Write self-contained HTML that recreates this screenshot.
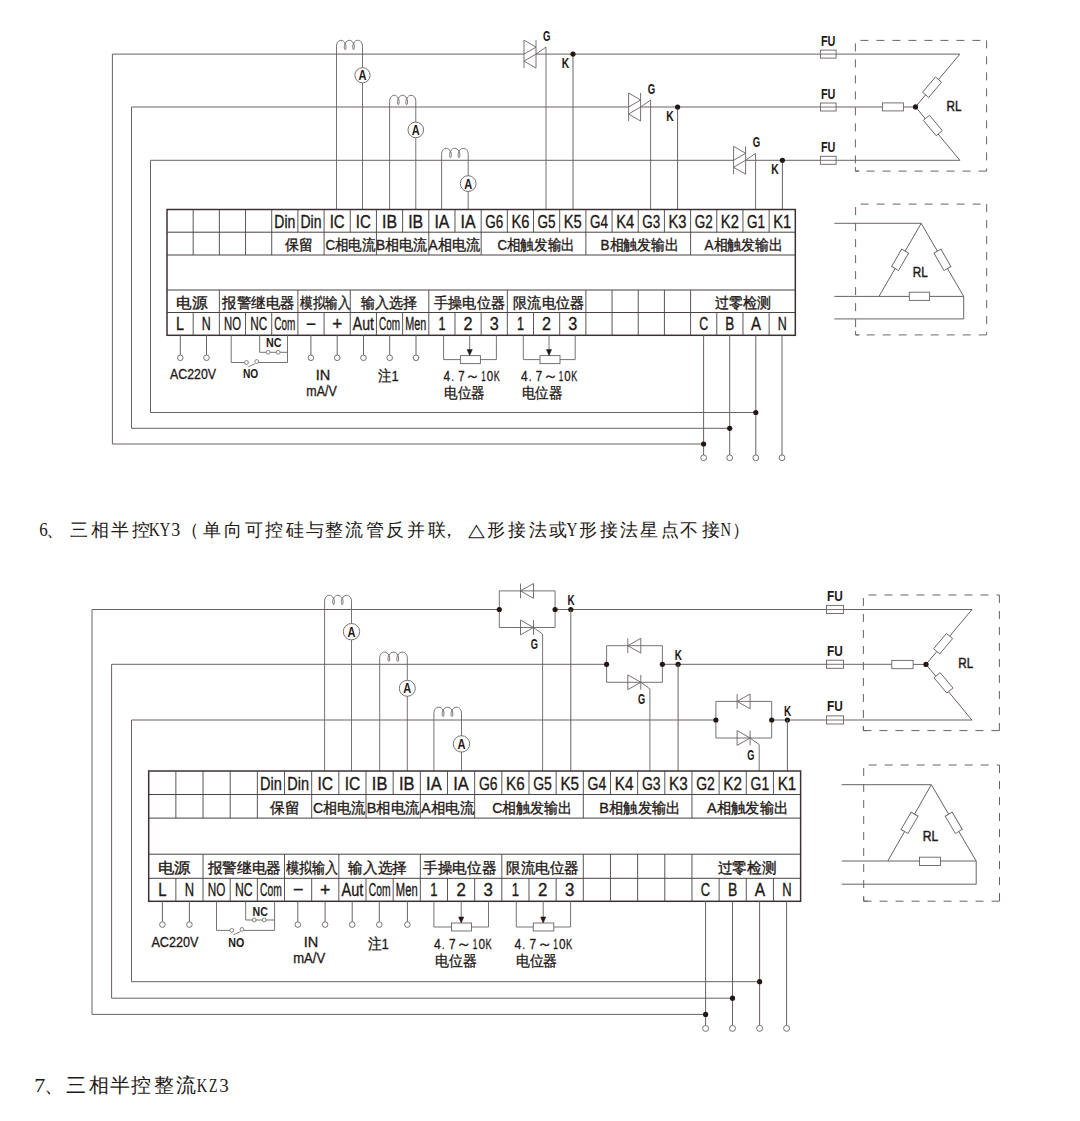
<!DOCTYPE html><html><head><meta charset="utf-8"><style>html,body{margin:0;padding:0;background:#fff;}svg{display:block}</style></head><body>
<svg width="1080" height="1121" viewBox="0 0 1080 1121">
<rect width="1080" height="1121" fill="#fff"/>
<path d="M703.60,444.00 H112.40 V54.10" stroke="#6a6262" stroke-width="1.0" fill="none"/>
<path d="M729.70,428.30 H131.50 V107.00" stroke="#6a6262" stroke-width="1.0" fill="none"/>
<path d="M755.80,412.50 H150.50 V160.30" stroke="#6a6262" stroke-width="1.0" fill="none"/>
<line x1="112.40" y1="54.10" x2="524.00" y2="54.10" stroke="#6a6262" stroke-width="1.0"/>
<line x1="536.00" y1="54.10" x2="959.90" y2="54.10" stroke="#6a6262" stroke-width="1.0"/>
<line x1="524.00" y1="40.10" x2="524.00" y2="68.10" stroke="#6a6262" stroke-width="0.9"/>
<line x1="536.00" y1="40.10" x2="536.00" y2="68.10" stroke="#6a6262" stroke-width="0.9"/>
<path d="M524.00,40.10 L536.00,47.10 L524.00,54.10" stroke="#6a6262" stroke-width="0.9" fill="none"/>
<path d="M536.00,54.10 L524.00,61.10 L536.00,68.10" stroke="#6a6262" stroke-width="0.9" fill="none"/>
<path d="M536.00,54.10 L546.00,47.10 V209.50" stroke="#6a6262" stroke-width="0.9" fill="none"/>
<text x="546.80" y="40.90" font-size="14" text-anchor="middle" font-family="Liberation Sans" font-weight="bold" fill="#231815" textLength="7.50" lengthAdjust="spacingAndGlyphs">G</text>
<line x1="573.00" y1="54.10" x2="573.00" y2="209.50" stroke="#6a6262" stroke-width="1.0"/>
<circle cx="573.00" cy="54.10" r="2.6" fill="#231815"/>
<text x="565.50" y="68.10" font-size="14" text-anchor="middle" font-family="Liberation Sans" font-weight="bold" fill="#231815" textLength="7.50" lengthAdjust="spacingAndGlyphs">K</text>
<line x1="131.50" y1="107.00" x2="628.60" y2="107.00" stroke="#6a6262" stroke-width="1.0"/>
<line x1="640.60" y1="107.00" x2="882.40" y2="107.00" stroke="#6a6262" stroke-width="1.0"/>
<line x1="628.60" y1="93.00" x2="628.60" y2="121.00" stroke="#6a6262" stroke-width="0.9"/>
<line x1="640.60" y1="93.00" x2="640.60" y2="121.00" stroke="#6a6262" stroke-width="0.9"/>
<path d="M628.60,93.00 L640.60,100.00 L628.60,107.00" stroke="#6a6262" stroke-width="0.9" fill="none"/>
<path d="M640.60,107.00 L628.60,114.00 L640.60,121.00" stroke="#6a6262" stroke-width="0.9" fill="none"/>
<path d="M640.60,107.00 L650.60,100.00 V209.50" stroke="#6a6262" stroke-width="0.9" fill="none"/>
<text x="651.40" y="93.80" font-size="14" text-anchor="middle" font-family="Liberation Sans" font-weight="bold" fill="#231815" textLength="7.50" lengthAdjust="spacingAndGlyphs">G</text>
<line x1="677.60" y1="107.00" x2="677.60" y2="209.50" stroke="#6a6262" stroke-width="1.0"/>
<circle cx="677.60" cy="107.00" r="2.6" fill="#231815"/>
<text x="670.10" y="121.00" font-size="14" text-anchor="middle" font-family="Liberation Sans" font-weight="bold" fill="#231815" textLength="7.50" lengthAdjust="spacingAndGlyphs">K</text>
<line x1="150.50" y1="160.30" x2="733.60" y2="160.30" stroke="#6a6262" stroke-width="1.0"/>
<line x1="745.60" y1="160.30" x2="959.90" y2="160.30" stroke="#6a6262" stroke-width="1.0"/>
<line x1="733.60" y1="146.30" x2="733.60" y2="174.30" stroke="#6a6262" stroke-width="0.9"/>
<line x1="745.60" y1="146.30" x2="745.60" y2="174.30" stroke="#6a6262" stroke-width="0.9"/>
<path d="M733.60,146.30 L745.60,153.30 L733.60,160.30" stroke="#6a6262" stroke-width="0.9" fill="none"/>
<path d="M745.60,160.30 L733.60,167.30 L745.60,174.30" stroke="#6a6262" stroke-width="0.9" fill="none"/>
<path d="M745.60,160.30 L755.60,153.30 V209.50" stroke="#6a6262" stroke-width="0.9" fill="none"/>
<text x="756.40" y="147.10" font-size="14" text-anchor="middle" font-family="Liberation Sans" font-weight="bold" fill="#231815" textLength="7.50" lengthAdjust="spacingAndGlyphs">G</text>
<line x1="782.40" y1="160.30" x2="782.40" y2="209.50" stroke="#6a6262" stroke-width="1.0"/>
<circle cx="782.40" cy="160.30" r="2.6" fill="#231815"/>
<text x="774.90" y="174.30" font-size="14" text-anchor="middle" font-family="Liberation Sans" font-weight="bold" fill="#231815" textLength="7.50" lengthAdjust="spacingAndGlyphs">K</text>
<rect x="820.40" y="50.10" width="15.70" height="8.00" stroke="#6a6262" stroke-width="0.9" fill="#fff"/>
<line x1="820.40" y1="54.10" x2="836.10" y2="54.10" stroke="#6a6262" stroke-width="0.9"/>
<text x="828.20" y="45.70" font-size="14" text-anchor="middle" font-family="Liberation Sans" font-weight="bold" fill="#231815" textLength="14.50" lengthAdjust="spacingAndGlyphs">FU</text>
<rect x="820.40" y="103.00" width="15.70" height="8.00" stroke="#6a6262" stroke-width="0.9" fill="#fff"/>
<line x1="820.40" y1="107.00" x2="836.10" y2="107.00" stroke="#6a6262" stroke-width="0.9"/>
<text x="828.20" y="98.60" font-size="14" text-anchor="middle" font-family="Liberation Sans" font-weight="bold" fill="#231815" textLength="14.50" lengthAdjust="spacingAndGlyphs">FU</text>
<rect x="820.40" y="156.30" width="15.70" height="8.00" stroke="#6a6262" stroke-width="0.9" fill="#fff"/>
<line x1="820.40" y1="160.30" x2="836.10" y2="160.30" stroke="#6a6262" stroke-width="0.9"/>
<text x="828.20" y="151.90" font-size="14" text-anchor="middle" font-family="Liberation Sans" font-weight="bold" fill="#231815" textLength="14.50" lengthAdjust="spacingAndGlyphs">FU</text>
<path d="M336.50,209.50 L336.50,46.30 C336.50,42.80 338.43,40.30 341.03,40.30 C342.76,40.30 344.20,41.50 345.17,43.30 C346.32,45.30 346.13,49.60 345.17,49.60 C344.20,49.60 343.82,45.80 345.17,43.30 C346.13,41.50 347.57,40.30 349.31,40.30 C351.14,40.30 352.49,41.50 353.54,43.30 C354.70,45.30 354.51,49.60 353.54,49.60 C352.58,49.60 352.20,45.80 353.54,43.30 C354.51,41.50 355.95,40.30 357.69,40.30 C360.57,40.30 362.50,42.80 362.50,46.30 L362.50,209.50" stroke="#6a6262" stroke-width="0.9" fill="none"/>
<circle cx="362.50" cy="75.30" r="7.6" fill="#fff" stroke="#6a6262" stroke-width="0.9"/>
<text x="362.50" y="80.30" font-size="15" text-anchor="middle" font-family="Liberation Sans" font-weight="bold" fill="#231815" textLength="8" lengthAdjust="spacingAndGlyphs">A</text>
<path d="M389.60,209.50 L389.60,101.30 C389.60,97.80 391.54,95.30 394.16,95.30 C395.91,95.30 397.36,96.50 398.33,98.30 C399.50,100.30 399.30,104.60 398.33,104.60 C397.36,104.60 396.97,100.80 398.33,98.30 C399.30,96.50 400.76,95.30 402.51,95.30 C404.35,95.30 405.71,96.50 406.78,98.30 C407.94,100.30 407.75,104.60 406.78,104.60 C405.81,104.60 405.42,100.80 406.78,98.30 C407.75,96.50 409.20,95.30 410.95,95.30 C413.86,95.30 415.80,97.80 415.80,101.30 L415.80,209.50" stroke="#6a6262" stroke-width="0.9" fill="none"/>
<circle cx="415.80" cy="129.90" r="7.8" fill="#fff" stroke="#6a6262" stroke-width="0.9"/>
<text x="415.80" y="134.90" font-size="15" text-anchor="middle" font-family="Liberation Sans" font-weight="bold" fill="#231815" textLength="8" lengthAdjust="spacingAndGlyphs">A</text>
<path d="M441.60,209.50 L441.60,154.30 C441.60,150.80 443.57,148.30 446.23,148.30 C448.00,148.30 449.48,149.50 450.47,151.30 C451.65,153.30 451.45,157.60 450.47,157.60 C449.48,157.60 449.09,153.80 450.47,151.30 C451.45,149.50 452.93,148.30 454.70,148.30 C456.57,148.30 457.95,149.50 459.04,151.30 C460.22,153.30 460.02,157.60 459.04,157.60 C458.05,157.60 457.66,153.80 459.04,151.30 C460.02,149.50 461.50,148.30 463.27,148.30 C466.23,148.30 468.20,150.80 468.20,154.30 L468.20,209.50" stroke="#6a6262" stroke-width="0.9" fill="none"/>
<circle cx="468.20" cy="183.60" r="7.9" fill="#fff" stroke="#6a6262" stroke-width="0.9"/>
<text x="468.20" y="188.60" font-size="15" text-anchor="middle" font-family="Liberation Sans" font-weight="bold" fill="#231815" textLength="8" lengthAdjust="spacingAndGlyphs">A</text>
<path d="M860.40,40.40 H986.60" stroke="#6b6363" stroke-width="1" fill="none" stroke-dasharray="8 8"/>
<path d="M855.40,43.40 V171.10" stroke="#6b6363" stroke-width="1" fill="none" stroke-dasharray="8 8"/>
<path d="M986.60,40.40 V171.10" stroke="#6b6363" stroke-width="1" fill="none" stroke-dasharray="8 8"/>
<path d="M986.60,171.10 H855.40" stroke="#6b6363" stroke-width="1" fill="none" stroke-dasharray="8 8"/>
<path d="M855.40,167.10 V171.10 H859.40" stroke="#6b6363" stroke-width="1" fill="none"/>
<path d="M903.4,107.0 H915.5" stroke="#6a6262" stroke-width="1.0" fill="none"/>
<rect x="882.40" y="102.90" width="21.00" height="8.00" stroke="#6a6262" stroke-width="0.9" fill="#fff"/>
<path d="M915.5,106.9 L959.9,54.1" stroke="#6a6262" stroke-width="1.0" fill="none"/>
<path d="M915.5,106.9 L959.9,160.3" stroke="#6a6262" stroke-width="1.0" fill="none"/>
<rect x="-10.00" y="-4.00" width="20.00" height="8.00" fill="#fff" stroke="#6a6262" stroke-width="0.9" transform="translate(932.10,87.20) rotate(-49.90)"/>
<rect x="-10.00" y="-4.00" width="20.00" height="8.00" fill="#fff" stroke="#6a6262" stroke-width="0.9" transform="translate(932.80,125.50) rotate(49.90)"/>
<circle cx="915.50" cy="106.90" r="2.6" fill="#231815"/>
<text x="954.00" y="110.90" font-size="14.5" text-anchor="middle" font-family="Liberation Sans" font-weight="normal" fill="#231815" textLength="15.00" lengthAdjust="spacingAndGlyphs" stroke="#231815" stroke-width="0.45">RL</text>
<path d="M860.60,204.10 H986.70" stroke="#6b6363" stroke-width="1" fill="none" stroke-dasharray="8 8"/>
<path d="M855.60,207.10 V334.90" stroke="#6b6363" stroke-width="1" fill="none" stroke-dasharray="8 8"/>
<path d="M986.70,204.10 V334.90" stroke="#6b6363" stroke-width="1" fill="none" stroke-dasharray="8 8"/>
<path d="M986.70,334.90 H855.60" stroke="#6b6363" stroke-width="1" fill="none" stroke-dasharray="8 8"/>
<path d="M855.60,330.90 V334.90 H859.60" stroke="#6b6363" stroke-width="1" fill="none"/>
<path d="M834.3,223.3 H921.2 L963.7,296.4 V318.9 H834.3" stroke="#6a6262" stroke-width="1.0" fill="none"/>
<path d="M834.3,296.4 H963.7" stroke="#6a6262" stroke-width="1.0" fill="none"/>
<path d="M921.2,223.3 L879,296.4" stroke="#6a6262" stroke-width="1.0" fill="none"/>
<rect x="-10.00" y="-4.00" width="20.00" height="8.00" fill="#fff" stroke="#6a6262" stroke-width="0.9" transform="translate(900.10,259.85) rotate(-59.90)"/>
<rect x="-10.00" y="-4.00" width="20.00" height="8.00" fill="#fff" stroke="#6a6262" stroke-width="0.9" transform="translate(942.45,259.85) rotate(59.90)"/>
<rect x="909.30" y="292.20" width="20.30" height="8.20" stroke="#6a6262" stroke-width="0.9" fill="#fff"/>
<text x="920.30" y="277.00" font-size="14.5" text-anchor="middle" font-family="Liberation Sans" font-weight="normal" fill="#231815" textLength="15.00" lengthAdjust="spacingAndGlyphs" stroke="#231815" stroke-width="0.45">RL</text>
<rect x="167.00" y="209.50" width="628.32" height="125.80" stroke="#3a3232" stroke-width="1.5" fill="none"/>
<line x1="167.00" y1="232.20" x2="795.32" y2="232.20" stroke="#4a4242" stroke-width="1.0"/>
<line x1="167.00" y1="255.00" x2="795.32" y2="255.00" stroke="#4a4242" stroke-width="1.0"/>
<line x1="167.00" y1="290.00" x2="795.32" y2="290.00" stroke="#4a4242" stroke-width="1.0"/>
<line x1="167.00" y1="312.50" x2="795.32" y2="312.50" stroke="#4a4242" stroke-width="1.0"/>
<line x1="193.18" y1="209.50" x2="193.18" y2="232.20" stroke="#4a4242" stroke-width="0.9"/>
<line x1="219.36" y1="209.50" x2="219.36" y2="232.20" stroke="#4a4242" stroke-width="0.9"/>
<line x1="245.54" y1="209.50" x2="245.54" y2="232.20" stroke="#4a4242" stroke-width="0.9"/>
<line x1="271.72" y1="209.50" x2="271.72" y2="232.20" stroke="#4a4242" stroke-width="0.9"/>
<line x1="297.90" y1="209.50" x2="297.90" y2="232.20" stroke="#4a4242" stroke-width="0.9"/>
<line x1="324.08" y1="209.50" x2="324.08" y2="232.20" stroke="#4a4242" stroke-width="0.9"/>
<line x1="350.26" y1="209.50" x2="350.26" y2="232.20" stroke="#4a4242" stroke-width="0.9"/>
<line x1="376.44" y1="209.50" x2="376.44" y2="232.20" stroke="#4a4242" stroke-width="0.9"/>
<line x1="402.62" y1="209.50" x2="402.62" y2="232.20" stroke="#4a4242" stroke-width="0.9"/>
<line x1="428.80" y1="209.50" x2="428.80" y2="232.20" stroke="#4a4242" stroke-width="0.9"/>
<line x1="454.98" y1="209.50" x2="454.98" y2="232.20" stroke="#4a4242" stroke-width="0.9"/>
<line x1="481.16" y1="209.50" x2="481.16" y2="232.20" stroke="#4a4242" stroke-width="0.9"/>
<line x1="507.34" y1="209.50" x2="507.34" y2="232.20" stroke="#4a4242" stroke-width="0.9"/>
<line x1="533.52" y1="209.50" x2="533.52" y2="232.20" stroke="#4a4242" stroke-width="0.9"/>
<line x1="559.70" y1="209.50" x2="559.70" y2="232.20" stroke="#4a4242" stroke-width="0.9"/>
<line x1="585.88" y1="209.50" x2="585.88" y2="232.20" stroke="#4a4242" stroke-width="0.9"/>
<line x1="612.06" y1="209.50" x2="612.06" y2="232.20" stroke="#4a4242" stroke-width="0.9"/>
<line x1="638.24" y1="209.50" x2="638.24" y2="232.20" stroke="#4a4242" stroke-width="0.9"/>
<line x1="664.42" y1="209.50" x2="664.42" y2="232.20" stroke="#4a4242" stroke-width="0.9"/>
<line x1="690.60" y1="209.50" x2="690.60" y2="232.20" stroke="#4a4242" stroke-width="0.9"/>
<line x1="716.78" y1="209.50" x2="716.78" y2="232.20" stroke="#4a4242" stroke-width="0.9"/>
<line x1="742.96" y1="209.50" x2="742.96" y2="232.20" stroke="#4a4242" stroke-width="0.9"/>
<line x1="769.14" y1="209.50" x2="769.14" y2="232.20" stroke="#4a4242" stroke-width="0.9"/>
<line x1="193.18" y1="232.20" x2="193.18" y2="255.00" stroke="#4a4242" stroke-width="0.9"/>
<line x1="219.36" y1="232.20" x2="219.36" y2="255.00" stroke="#4a4242" stroke-width="0.9"/>
<line x1="245.54" y1="232.20" x2="245.54" y2="255.00" stroke="#4a4242" stroke-width="0.9"/>
<line x1="271.72" y1="232.20" x2="271.72" y2="255.00" stroke="#4a4242" stroke-width="0.9"/>
<line x1="324.08" y1="232.20" x2="324.08" y2="255.00" stroke="#4a4242" stroke-width="0.9"/>
<line x1="376.44" y1="232.20" x2="376.44" y2="255.00" stroke="#4a4242" stroke-width="0.9"/>
<line x1="428.80" y1="232.20" x2="428.80" y2="255.00" stroke="#4a4242" stroke-width="0.9"/>
<line x1="481.16" y1="232.20" x2="481.16" y2="255.00" stroke="#4a4242" stroke-width="0.9"/>
<line x1="585.88" y1="232.20" x2="585.88" y2="255.00" stroke="#4a4242" stroke-width="0.9"/>
<line x1="690.60" y1="232.20" x2="690.60" y2="255.00" stroke="#4a4242" stroke-width="0.9"/>
<line x1="219.36" y1="290.00" x2="219.36" y2="312.50" stroke="#4a4242" stroke-width="0.9"/>
<line x1="297.90" y1="290.00" x2="297.90" y2="312.50" stroke="#4a4242" stroke-width="0.9"/>
<line x1="350.26" y1="290.00" x2="350.26" y2="312.50" stroke="#4a4242" stroke-width="0.9"/>
<line x1="428.80" y1="290.00" x2="428.80" y2="312.50" stroke="#4a4242" stroke-width="0.9"/>
<line x1="507.34" y1="290.00" x2="507.34" y2="312.50" stroke="#4a4242" stroke-width="0.9"/>
<line x1="585.88" y1="290.00" x2="585.88" y2="312.50" stroke="#4a4242" stroke-width="0.9"/>
<line x1="612.06" y1="290.00" x2="612.06" y2="312.50" stroke="#4a4242" stroke-width="0.9"/>
<line x1="638.24" y1="290.00" x2="638.24" y2="312.50" stroke="#4a4242" stroke-width="0.9"/>
<line x1="664.42" y1="290.00" x2="664.42" y2="312.50" stroke="#4a4242" stroke-width="0.9"/>
<line x1="690.60" y1="290.00" x2="690.60" y2="312.50" stroke="#4a4242" stroke-width="0.9"/>
<line x1="193.18" y1="312.50" x2="193.18" y2="335.30" stroke="#4a4242" stroke-width="0.9"/>
<line x1="219.36" y1="312.50" x2="219.36" y2="335.30" stroke="#4a4242" stroke-width="0.9"/>
<line x1="245.54" y1="312.50" x2="245.54" y2="335.30" stroke="#4a4242" stroke-width="0.9"/>
<line x1="271.72" y1="312.50" x2="271.72" y2="335.30" stroke="#4a4242" stroke-width="0.9"/>
<line x1="297.90" y1="312.50" x2="297.90" y2="335.30" stroke="#4a4242" stroke-width="0.9"/>
<line x1="324.08" y1="312.50" x2="324.08" y2="335.30" stroke="#4a4242" stroke-width="0.9"/>
<line x1="350.26" y1="312.50" x2="350.26" y2="335.30" stroke="#4a4242" stroke-width="0.9"/>
<line x1="376.44" y1="312.50" x2="376.44" y2="335.30" stroke="#4a4242" stroke-width="0.9"/>
<line x1="402.62" y1="312.50" x2="402.62" y2="335.30" stroke="#4a4242" stroke-width="0.9"/>
<line x1="428.80" y1="312.50" x2="428.80" y2="335.30" stroke="#4a4242" stroke-width="0.9"/>
<line x1="454.98" y1="312.50" x2="454.98" y2="335.30" stroke="#4a4242" stroke-width="0.9"/>
<line x1="481.16" y1="312.50" x2="481.16" y2="335.30" stroke="#4a4242" stroke-width="0.9"/>
<line x1="507.34" y1="312.50" x2="507.34" y2="335.30" stroke="#4a4242" stroke-width="0.9"/>
<line x1="533.52" y1="312.50" x2="533.52" y2="335.30" stroke="#4a4242" stroke-width="0.9"/>
<line x1="559.70" y1="312.50" x2="559.70" y2="335.30" stroke="#4a4242" stroke-width="0.9"/>
<line x1="585.88" y1="312.50" x2="585.88" y2="335.30" stroke="#4a4242" stroke-width="0.9"/>
<line x1="612.06" y1="312.50" x2="612.06" y2="335.30" stroke="#4a4242" stroke-width="0.9"/>
<line x1="638.24" y1="312.50" x2="638.24" y2="335.30" stroke="#4a4242" stroke-width="0.9"/>
<line x1="664.42" y1="312.50" x2="664.42" y2="335.30" stroke="#4a4242" stroke-width="0.9"/>
<line x1="690.60" y1="312.50" x2="690.60" y2="335.30" stroke="#4a4242" stroke-width="0.9"/>
<line x1="716.78" y1="312.50" x2="716.78" y2="335.30" stroke="#4a4242" stroke-width="0.9"/>
<line x1="742.96" y1="312.50" x2="742.96" y2="335.30" stroke="#4a4242" stroke-width="0.9"/>
<line x1="769.14" y1="312.50" x2="769.14" y2="335.30" stroke="#4a4242" stroke-width="0.9"/>
<text x="284.81" y="227.70" font-size="18" text-anchor="middle" font-family="Liberation Sans" font-weight="normal" fill="#231815" textLength="21.02" lengthAdjust="spacingAndGlyphs" stroke="#231815" stroke-width="0.35">Din</text>
<text x="310.99" y="227.70" font-size="18" text-anchor="middle" font-family="Liberation Sans" font-weight="normal" fill="#231815" textLength="21.02" lengthAdjust="spacingAndGlyphs" stroke="#231815" stroke-width="0.35">Din</text>
<text x="337.17" y="227.70" font-size="18" text-anchor="middle" font-family="Liberation Sans" font-weight="normal" fill="#231815" textLength="15.01" lengthAdjust="spacingAndGlyphs" stroke="#231815" stroke-width="0.35">IC</text>
<text x="363.35" y="227.70" font-size="18" text-anchor="middle" font-family="Liberation Sans" font-weight="normal" fill="#231815" textLength="15.01" lengthAdjust="spacingAndGlyphs" stroke="#231815" stroke-width="0.35">IC</text>
<text x="389.53" y="227.70" font-size="18" text-anchor="middle" font-family="Liberation Sans" font-weight="normal" fill="#231815" textLength="15.01" lengthAdjust="spacingAndGlyphs" stroke="#231815" stroke-width="0.35">IB</text>
<text x="415.71" y="227.70" font-size="18" text-anchor="middle" font-family="Liberation Sans" font-weight="normal" fill="#231815" textLength="15.01" lengthAdjust="spacingAndGlyphs" stroke="#231815" stroke-width="0.35">IB</text>
<text x="441.89" y="227.70" font-size="18" text-anchor="middle" font-family="Liberation Sans" font-weight="normal" fill="#231815" textLength="15.01" lengthAdjust="spacingAndGlyphs" stroke="#231815" stroke-width="0.35">IA</text>
<text x="468.07" y="227.70" font-size="18" text-anchor="middle" font-family="Liberation Sans" font-weight="normal" fill="#231815" textLength="15.01" lengthAdjust="spacingAndGlyphs" stroke="#231815" stroke-width="0.35">IA</text>
<text x="494.25" y="227.70" font-size="18" text-anchor="middle" font-family="Liberation Sans" font-weight="normal" fill="#231815" textLength="18.01" lengthAdjust="spacingAndGlyphs" stroke="#231815" stroke-width="0.35">G6</text>
<text x="520.43" y="227.70" font-size="18" text-anchor="middle" font-family="Liberation Sans" font-weight="normal" fill="#231815" textLength="18.01" lengthAdjust="spacingAndGlyphs" stroke="#231815" stroke-width="0.35">K6</text>
<text x="546.61" y="227.70" font-size="18" text-anchor="middle" font-family="Liberation Sans" font-weight="normal" fill="#231815" textLength="18.01" lengthAdjust="spacingAndGlyphs" stroke="#231815" stroke-width="0.35">G5</text>
<text x="572.79" y="227.70" font-size="18" text-anchor="middle" font-family="Liberation Sans" font-weight="normal" fill="#231815" textLength="18.01" lengthAdjust="spacingAndGlyphs" stroke="#231815" stroke-width="0.35">K5</text>
<text x="598.97" y="227.70" font-size="18" text-anchor="middle" font-family="Liberation Sans" font-weight="normal" fill="#231815" textLength="18.01" lengthAdjust="spacingAndGlyphs" stroke="#231815" stroke-width="0.35">G4</text>
<text x="625.15" y="227.70" font-size="18" text-anchor="middle" font-family="Liberation Sans" font-weight="normal" fill="#231815" textLength="18.01" lengthAdjust="spacingAndGlyphs" stroke="#231815" stroke-width="0.35">K4</text>
<text x="651.33" y="227.70" font-size="18" text-anchor="middle" font-family="Liberation Sans" font-weight="normal" fill="#231815" textLength="18.01" lengthAdjust="spacingAndGlyphs" stroke="#231815" stroke-width="0.35">G3</text>
<text x="677.51" y="227.70" font-size="18" text-anchor="middle" font-family="Liberation Sans" font-weight="normal" fill="#231815" textLength="18.01" lengthAdjust="spacingAndGlyphs" stroke="#231815" stroke-width="0.35">K3</text>
<text x="703.69" y="227.70" font-size="18" text-anchor="middle" font-family="Liberation Sans" font-weight="normal" fill="#231815" textLength="18.01" lengthAdjust="spacingAndGlyphs" stroke="#231815" stroke-width="0.35">G2</text>
<text x="729.87" y="227.70" font-size="18" text-anchor="middle" font-family="Liberation Sans" font-weight="normal" fill="#231815" textLength="18.01" lengthAdjust="spacingAndGlyphs" stroke="#231815" stroke-width="0.35">K2</text>
<text x="756.05" y="227.70" font-size="18" text-anchor="middle" font-family="Liberation Sans" font-weight="normal" fill="#231815" textLength="18.01" lengthAdjust="spacingAndGlyphs" stroke="#231815" stroke-width="0.35">G1</text>
<text x="782.23" y="227.70" font-size="18" text-anchor="middle" font-family="Liberation Sans" font-weight="normal" fill="#231815" textLength="18.01" lengthAdjust="spacingAndGlyphs" stroke="#231815" stroke-width="0.35">K1</text>
<text x="299.00" y="250.00" font-size="14.5" text-anchor="middle" font-family="Liberation Sans" font-weight="normal" fill="#231815" textLength="28.00" lengthAdjust="spacingAndGlyphs" stroke="#231815" stroke-width="0.35">保留</text>
<text x="350.50" y="250.00" font-size="14.5" text-anchor="middle" font-family="Liberation Sans" font-weight="normal" fill="#231815" textLength="50.20" lengthAdjust="spacingAndGlyphs" stroke="#231815" stroke-width="0.35">C相电流</text>
<text x="401.80" y="250.00" font-size="14.5" text-anchor="middle" font-family="Liberation Sans" font-weight="normal" fill="#231815" textLength="51.60" lengthAdjust="spacingAndGlyphs" stroke="#231815" stroke-width="0.35">B相电流</text>
<text x="454.40" y="250.00" font-size="14.5" text-anchor="middle" font-family="Liberation Sans" font-weight="normal" fill="#231815" textLength="51.60" lengthAdjust="spacingAndGlyphs" stroke="#231815" stroke-width="0.35">A相电流</text>
<text x="536.10" y="250.00" font-size="14.5" text-anchor="middle" font-family="Liberation Sans" font-weight="normal" fill="#231815" textLength="77.40" lengthAdjust="spacingAndGlyphs" stroke="#231815" stroke-width="0.35">C相触发输出</text>
<text x="639.80" y="250.00" font-size="14.5" text-anchor="middle" font-family="Liberation Sans" font-weight="normal" fill="#231815" textLength="78.40" lengthAdjust="spacingAndGlyphs" stroke="#231815" stroke-width="0.35">B相触发输出</text>
<text x="743.85" y="250.00" font-size="14.5" text-anchor="middle" font-family="Liberation Sans" font-weight="normal" fill="#231815" textLength="78.50" lengthAdjust="spacingAndGlyphs" stroke="#231815" stroke-width="0.35">A相触发输出</text>
<text x="191.90" y="308.20" font-size="14.5" text-anchor="middle" font-family="Liberation Sans" font-weight="normal" fill="#231815" textLength="31.20" lengthAdjust="spacingAndGlyphs" stroke="#231815" stroke-width="0.35">电源</text>
<text x="258.40" y="308.20" font-size="14.5" text-anchor="middle" font-family="Liberation Sans" font-weight="normal" fill="#231815" textLength="72.00" lengthAdjust="spacingAndGlyphs" stroke="#231815" stroke-width="0.35">报警继电器</text>
<text x="325.30" y="308.20" font-size="14.5" text-anchor="middle" font-family="Liberation Sans" font-weight="normal" fill="#231815" textLength="50.40" lengthAdjust="spacingAndGlyphs" stroke="#231815" stroke-width="0.35">模拟输入</text>
<text x="389.05" y="308.20" font-size="14.5" text-anchor="middle" font-family="Liberation Sans" font-weight="normal" fill="#231815" textLength="56.30" lengthAdjust="spacingAndGlyphs" stroke="#231815" stroke-width="0.35">输入选择</text>
<text x="469.45" y="308.20" font-size="14.5" text-anchor="middle" font-family="Liberation Sans" font-weight="normal" fill="#231815" textLength="70.70" lengthAdjust="spacingAndGlyphs" stroke="#231815" stroke-width="0.35">手操电位器</text>
<text x="548.65" y="308.20" font-size="14.5" text-anchor="middle" font-family="Liberation Sans" font-weight="normal" fill="#231815" textLength="70.50" lengthAdjust="spacingAndGlyphs" stroke="#231815" stroke-width="0.35">限流电位器</text>
<text x="743.10" y="308.20" font-size="14.5" text-anchor="middle" font-family="Liberation Sans" font-weight="normal" fill="#231815" textLength="56.20" lengthAdjust="spacingAndGlyphs" stroke="#231815" stroke-width="0.35">过零检测</text>
<text x="180.09" y="330.30" font-size="18" text-anchor="middle" font-family="Liberation Sans" font-weight="normal" fill="#231815" textLength="8.01" lengthAdjust="spacingAndGlyphs" stroke="#231815" stroke-width="0.35">L</text>
<text x="206.27" y="330.30" font-size="18" text-anchor="middle" font-family="Liberation Sans" font-weight="normal" fill="#231815" textLength="9.01" lengthAdjust="spacingAndGlyphs" stroke="#231815" stroke-width="0.35">N</text>
<text x="232.45" y="330.30" font-size="18" text-anchor="middle" font-family="Liberation Sans" font-weight="normal" fill="#231815" textLength="17.01" lengthAdjust="spacingAndGlyphs" stroke="#231815" stroke-width="0.35">NO</text>
<text x="258.63" y="330.30" font-size="18" text-anchor="middle" font-family="Liberation Sans" font-weight="normal" fill="#231815" textLength="17.01" lengthAdjust="spacingAndGlyphs" stroke="#231815" stroke-width="0.35">NC</text>
<text x="284.81" y="330.30" font-size="18" text-anchor="middle" font-family="Liberation Sans" font-weight="normal" fill="#231815" textLength="21.02" lengthAdjust="spacingAndGlyphs" stroke="#231815" stroke-width="0.35">Com</text>
<text x="310.99" y="330.30" font-size="18" text-anchor="middle" font-family="Liberation Sans" font-weight="normal" fill="#231815" textLength="10.01" lengthAdjust="spacingAndGlyphs" stroke="#231815" stroke-width="0.35">−</text>
<text x="337.17" y="330.30" font-size="18" text-anchor="middle" font-family="Liberation Sans" font-weight="normal" fill="#231815" textLength="10.01" lengthAdjust="spacingAndGlyphs" stroke="#231815" stroke-width="0.35">+</text>
<text x="363.35" y="330.30" font-size="18" text-anchor="middle" font-family="Liberation Sans" font-weight="normal" fill="#231815" textLength="21.02" lengthAdjust="spacingAndGlyphs" stroke="#231815" stroke-width="0.35">Aut</text>
<text x="389.53" y="330.30" font-size="18" text-anchor="middle" font-family="Liberation Sans" font-weight="normal" fill="#231815" textLength="21.02" lengthAdjust="spacingAndGlyphs" stroke="#231815" stroke-width="0.35">Com</text>
<text x="415.71" y="330.30" font-size="18" text-anchor="middle" font-family="Liberation Sans" font-weight="normal" fill="#231815" textLength="21.02" lengthAdjust="spacingAndGlyphs" stroke="#231815" stroke-width="0.35">Men</text>
<text x="441.89" y="330.30" font-size="18" text-anchor="middle" font-family="Liberation Sans" font-weight="normal" fill="#231815" textLength="7.01" lengthAdjust="spacingAndGlyphs" stroke="#231815" stroke-width="0.35">1</text>
<text x="468.07" y="330.30" font-size="18" text-anchor="middle" font-family="Liberation Sans" font-weight="normal" fill="#231815" textLength="9.01" lengthAdjust="spacingAndGlyphs" stroke="#231815" stroke-width="0.35">2</text>
<text x="494.25" y="330.30" font-size="18" text-anchor="middle" font-family="Liberation Sans" font-weight="normal" fill="#231815" textLength="9.01" lengthAdjust="spacingAndGlyphs" stroke="#231815" stroke-width="0.35">3</text>
<text x="520.43" y="330.30" font-size="18" text-anchor="middle" font-family="Liberation Sans" font-weight="normal" fill="#231815" textLength="7.01" lengthAdjust="spacingAndGlyphs" stroke="#231815" stroke-width="0.35">1</text>
<text x="546.61" y="330.30" font-size="18" text-anchor="middle" font-family="Liberation Sans" font-weight="normal" fill="#231815" textLength="9.01" lengthAdjust="spacingAndGlyphs" stroke="#231815" stroke-width="0.35">2</text>
<text x="572.79" y="330.30" font-size="18" text-anchor="middle" font-family="Liberation Sans" font-weight="normal" fill="#231815" textLength="9.01" lengthAdjust="spacingAndGlyphs" stroke="#231815" stroke-width="0.35">3</text>
<text x="703.69" y="330.30" font-size="18" text-anchor="middle" font-family="Liberation Sans" font-weight="normal" fill="#231815" textLength="9.01" lengthAdjust="spacingAndGlyphs" stroke="#231815" stroke-width="0.35">C</text>
<text x="729.87" y="330.30" font-size="18" text-anchor="middle" font-family="Liberation Sans" font-weight="normal" fill="#231815" textLength="9.01" lengthAdjust="spacingAndGlyphs" stroke="#231815" stroke-width="0.35">B</text>
<text x="756.05" y="330.30" font-size="18" text-anchor="middle" font-family="Liberation Sans" font-weight="normal" fill="#231815" textLength="10.01" lengthAdjust="spacingAndGlyphs" stroke="#231815" stroke-width="0.35">A</text>
<text x="782.23" y="330.30" font-size="18" text-anchor="middle" font-family="Liberation Sans" font-weight="normal" fill="#231815" textLength="9.01" lengthAdjust="spacingAndGlyphs" stroke="#231815" stroke-width="0.35">N</text>
<line x1="180.30" y1="335.30" x2="180.30" y2="355.00" stroke="#6a6262" stroke-width="1.0"/>
<circle cx="180.30" cy="357.80" r="2.8" fill="#fff" stroke="#6a6262" stroke-width="0.9"/>
<line x1="206.50" y1="335.30" x2="206.50" y2="355.00" stroke="#6a6262" stroke-width="1.0"/>
<circle cx="206.50" cy="357.80" r="2.8" fill="#fff" stroke="#6a6262" stroke-width="0.9"/>
<line x1="310.90" y1="335.30" x2="310.90" y2="355.00" stroke="#6a6262" stroke-width="1.0"/>
<circle cx="310.90" cy="357.80" r="2.8" fill="#fff" stroke="#6a6262" stroke-width="0.9"/>
<line x1="337.20" y1="335.30" x2="337.20" y2="355.00" stroke="#6a6262" stroke-width="1.0"/>
<circle cx="337.20" cy="357.80" r="2.8" fill="#fff" stroke="#6a6262" stroke-width="0.9"/>
<line x1="363.50" y1="335.30" x2="363.50" y2="355.00" stroke="#6a6262" stroke-width="1.0"/>
<circle cx="363.50" cy="357.80" r="2.8" fill="#fff" stroke="#6a6262" stroke-width="0.9"/>
<line x1="389.70" y1="335.30" x2="389.70" y2="355.00" stroke="#6a6262" stroke-width="1.0"/>
<circle cx="389.70" cy="357.80" r="2.8" fill="#fff" stroke="#6a6262" stroke-width="0.9"/>
<line x1="416.00" y1="335.30" x2="416.00" y2="355.00" stroke="#6a6262" stroke-width="1.0"/>
<circle cx="416.00" cy="357.80" r="2.8" fill="#fff" stroke="#6a6262" stroke-width="0.9"/>
<path d="M231.20,335.30 V362.50 H244.70" stroke="#6a6262" stroke-width="0.9" fill="none"/>
<path d="M258.20,362.50 H287.50 V335.30" stroke="#6a6262" stroke-width="0.9" fill="none"/>
<path d="M259.70,335.30 V352.30 H287.50" stroke="#6a6262" stroke-width="0.9" fill="none"/>
<circle cx="246.50" cy="362.50" r="1.9" fill="#fff" stroke="#6a6262" stroke-width="0.8"/>
<circle cx="256.70" cy="361.50" r="1.9" fill="#fff" stroke="#6a6262" stroke-width="0.8"/>
<line x1="248.20" y1="366.80" x2="255.20" y2="363.70" stroke="#6a6262" stroke-width="0.8"/>
<circle cx="268.20" cy="352.30" r="1.9" fill="#fff" stroke="#6a6262" stroke-width="0.8"/>
<circle cx="278.20" cy="352.30" r="1.9" fill="#fff" stroke="#6a6262" stroke-width="0.8"/>
<path d="M443.60,335.30 V359.60 H460.40" stroke="#6a6262" stroke-width="0.9" fill="none"/>
<path d="M480.40,359.60 H496.40 V335.30" stroke="#6a6262" stroke-width="0.9" fill="none"/>
<rect x="460.40" y="355.60" width="20.00" height="8.00" stroke="#6a6262" stroke-width="0.9" fill="#fff"/>
<line x1="469.70" y1="335.30" x2="469.70" y2="350.60" stroke="#6a6262" stroke-width="0.9"/>
<path d="M467.10,349.60 L472.30,349.60 L469.70,355.60 Z" stroke="#231815" stroke-width="0.5" fill="#231815"/>
<path d="M523.30,335.30 V359.60 H540.00" stroke="#6a6262" stroke-width="0.9" fill="none"/>
<path d="M560.00,359.60 H575.20 V335.30" stroke="#6a6262" stroke-width="0.9" fill="none"/>
<rect x="540.00" y="355.60" width="20.00" height="8.00" stroke="#6a6262" stroke-width="0.9" fill="#fff"/>
<line x1="549.00" y1="335.30" x2="549.00" y2="350.60" stroke="#6a6262" stroke-width="0.9"/>
<path d="M546.40,349.60 L551.60,349.60 L549.00,355.60 Z" stroke="#231815" stroke-width="0.5" fill="#231815"/>
<text x="193.00" y="378.70" font-size="14" text-anchor="middle" font-family="Liberation Sans" font-weight="normal" fill="#231815" textLength="46.00" lengthAdjust="spacingAndGlyphs" stroke="#231815" stroke-width="0.3">AC220V</text>
<text x="273.80" y="347.40" font-size="12.5" text-anchor="middle" font-family="Liberation Sans" font-weight="bold" fill="#231815" textLength="15.50" lengthAdjust="spacingAndGlyphs">NC</text>
<text x="250.60" y="377.80" font-size="12.5" text-anchor="middle" font-family="Liberation Sans" font-weight="bold" fill="#231815" textLength="15.30" lengthAdjust="spacingAndGlyphs">NO</text>
<text x="323.00" y="379.60" font-size="14" text-anchor="middle" font-family="Liberation Sans" font-weight="normal" fill="#231815" textLength="14.50" lengthAdjust="spacingAndGlyphs" stroke="#231815" stroke-width="0.3">IN</text>
<text x="321.50" y="395.50" font-size="14" text-anchor="middle" font-family="Liberation Sans" font-weight="normal" fill="#231815" textLength="30.50" lengthAdjust="spacingAndGlyphs" stroke="#231815" stroke-width="0.3">mA/V</text>
<text x="388.50" y="380.60" font-size="14.5" text-anchor="middle" font-family="Liberation Sans" font-weight="normal" fill="#231815" textLength="20.50" lengthAdjust="spacingAndGlyphs" stroke="#231815" stroke-width="0.3">注1</text>
<text x="443.60" y="381.10" font-size="14.5" text-anchor="start" font-family="Liberation Sans" font-weight="normal" fill="#231815" textLength="6.60" lengthAdjust="spacingAndGlyphs" stroke="#231815" stroke-width="0.3">4</text>
<text x="451.55" y="381.10" font-size="14.5" text-anchor="start" font-family="Liberation Sans" font-weight="normal" fill="#231815" textLength="2.33" lengthAdjust="spacingAndGlyphs" stroke="#231815" stroke-width="0.3">.</text>
<text x="458.15" y="381.10" font-size="14.5" text-anchor="start" font-family="Liberation Sans" font-weight="normal" fill="#231815" textLength="6.40" lengthAdjust="spacingAndGlyphs" stroke="#231815" stroke-width="0.3">7</text>
<text x="465.43" y="381.10" font-size="14.5" text-anchor="start" font-family="Liberation Sans" font-weight="normal" fill="#231815" textLength="15.04" lengthAdjust="spacingAndGlyphs" stroke="#231815" stroke-width="0.3">～</text>
<text x="481.24" y="381.10" font-size="14.5" text-anchor="start" font-family="Liberation Sans" font-weight="normal" fill="#231815" textLength="4.46" lengthAdjust="spacingAndGlyphs" stroke="#231815" stroke-width="0.3">1</text>
<text x="486.86" y="381.10" font-size="14.5" text-anchor="start" font-family="Liberation Sans" font-weight="normal" fill="#231815" textLength="6.40" lengthAdjust="spacingAndGlyphs" stroke="#231815" stroke-width="0.3">0</text>
<text x="493.65" y="381.10" font-size="14.5" text-anchor="start" font-family="Liberation Sans" font-weight="normal" fill="#231815" textLength="6.01" lengthAdjust="spacingAndGlyphs" stroke="#231815" stroke-width="0.3">K</text>
<text x="464.40" y="397.50" font-size="14.5" text-anchor="middle" font-family="Liberation Sans" font-weight="normal" fill="#231815" textLength="40.80" lengthAdjust="spacingAndGlyphs" stroke="#231815" stroke-width="0.3">电位器</text>
<text x="521.10" y="381.10" font-size="14.5" text-anchor="start" font-family="Liberation Sans" font-weight="normal" fill="#231815" textLength="6.60" lengthAdjust="spacingAndGlyphs" stroke="#231815" stroke-width="0.3">4</text>
<text x="529.05" y="381.10" font-size="14.5" text-anchor="start" font-family="Liberation Sans" font-weight="normal" fill="#231815" textLength="2.33" lengthAdjust="spacingAndGlyphs" stroke="#231815" stroke-width="0.3">.</text>
<text x="535.65" y="381.10" font-size="14.5" text-anchor="start" font-family="Liberation Sans" font-weight="normal" fill="#231815" textLength="6.40" lengthAdjust="spacingAndGlyphs" stroke="#231815" stroke-width="0.3">7</text>
<text x="542.93" y="381.10" font-size="14.5" text-anchor="start" font-family="Liberation Sans" font-weight="normal" fill="#231815" textLength="15.04" lengthAdjust="spacingAndGlyphs" stroke="#231815" stroke-width="0.3">～</text>
<text x="558.74" y="381.10" font-size="14.5" text-anchor="start" font-family="Liberation Sans" font-weight="normal" fill="#231815" textLength="4.46" lengthAdjust="spacingAndGlyphs" stroke="#231815" stroke-width="0.3">1</text>
<text x="564.36" y="381.10" font-size="14.5" text-anchor="start" font-family="Liberation Sans" font-weight="normal" fill="#231815" textLength="6.40" lengthAdjust="spacingAndGlyphs" stroke="#231815" stroke-width="0.3">0</text>
<text x="571.15" y="381.10" font-size="14.5" text-anchor="start" font-family="Liberation Sans" font-weight="normal" fill="#231815" textLength="6.01" lengthAdjust="spacingAndGlyphs" stroke="#231815" stroke-width="0.3">K</text>
<text x="542.00" y="397.50" font-size="14.5" text-anchor="middle" font-family="Liberation Sans" font-weight="normal" fill="#231815" textLength="40.80" lengthAdjust="spacingAndGlyphs" stroke="#231815" stroke-width="0.3">电位器</text>
<line x1="703.60" y1="335.30" x2="703.60" y2="455.00" stroke="#6a6262" stroke-width="1.0"/>
<circle cx="703.60" cy="457.80" r="2.9" fill="#fff" stroke="#6a6262" stroke-width="0.9"/>
<line x1="729.70" y1="335.30" x2="729.70" y2="455.00" stroke="#6a6262" stroke-width="1.0"/>
<circle cx="729.70" cy="457.80" r="2.9" fill="#fff" stroke="#6a6262" stroke-width="0.9"/>
<line x1="755.80" y1="335.30" x2="755.80" y2="455.00" stroke="#6a6262" stroke-width="1.0"/>
<circle cx="755.80" cy="457.80" r="2.9" fill="#fff" stroke="#6a6262" stroke-width="0.9"/>
<line x1="782.00" y1="335.30" x2="782.00" y2="455.00" stroke="#6a6262" stroke-width="1.0"/>
<circle cx="782.00" cy="457.80" r="2.9" fill="#fff" stroke="#6a6262" stroke-width="0.9"/>
<circle cx="755.80" cy="412.50" r="2.6" fill="#231815"/>
<circle cx="729.70" cy="428.30" r="2.6" fill="#231815"/>
<circle cx="703.60" cy="444.00" r="2.6" fill="#231815"/>
<text x="39.20" y="536.40" font-size="18" text-anchor="start" font-family="Liberation Serif" font-weight="normal" fill="#231815" textLength="8.50" lengthAdjust="spacingAndGlyphs">6</text>
<text x="46.00" y="536.40" font-size="18" text-anchor="start" font-family="Liberation Serif" font-weight="normal" fill="#231815">、</text>
<text x="69.80" y="536.40" font-size="18" text-anchor="start" font-family="Liberation Serif" font-weight="normal" fill="#231815">三</text>
<text x="90.50" y="536.40" font-size="18" text-anchor="start" font-family="Liberation Serif" font-weight="normal" fill="#231815">相</text>
<text x="110.80" y="536.40" font-size="18" text-anchor="start" font-family="Liberation Serif" font-weight="normal" fill="#231815">半</text>
<text x="131.50" y="536.40" font-size="18" text-anchor="start" font-family="Liberation Serif" font-weight="normal" fill="#231815">控</text>
<text x="148.70" y="536.40" font-size="18" text-anchor="start" font-family="Liberation Serif" font-weight="normal" fill="#231815" textLength="11.00" lengthAdjust="spacingAndGlyphs">K</text>
<text x="159.80" y="536.40" font-size="18" text-anchor="start" font-family="Liberation Serif" font-weight="normal" fill="#231815" textLength="10.50" lengthAdjust="spacingAndGlyphs">Y</text>
<text x="171.20" y="536.40" font-size="18" text-anchor="start" font-family="Liberation Serif" font-weight="normal" fill="#231815" textLength="9.00" lengthAdjust="spacingAndGlyphs">3</text>
<text x="181.00" y="536.40" font-size="18" text-anchor="start" font-family="Liberation Serif" font-weight="normal" fill="#231815">（</text>
<text x="202.80" y="536.40" font-size="18" text-anchor="start" font-family="Liberation Serif" font-weight="normal" fill="#231815">单</text>
<text x="223.50" y="536.40" font-size="18" text-anchor="start" font-family="Liberation Serif" font-weight="normal" fill="#231815">向</text>
<text x="244.50" y="536.40" font-size="18" text-anchor="start" font-family="Liberation Serif" font-weight="normal" fill="#231815">可</text>
<text x="265.30" y="536.40" font-size="18" text-anchor="start" font-family="Liberation Serif" font-weight="normal" fill="#231815">控</text>
<text x="286.20" y="536.40" font-size="18" text-anchor="start" font-family="Liberation Serif" font-weight="normal" fill="#231815">硅</text>
<text x="306.20" y="536.40" font-size="18" text-anchor="start" font-family="Liberation Serif" font-weight="normal" fill="#231815">与</text>
<text x="325.30" y="536.40" font-size="18" text-anchor="start" font-family="Liberation Serif" font-weight="normal" fill="#231815">整</text>
<text x="345.30" y="536.40" font-size="18" text-anchor="start" font-family="Liberation Serif" font-weight="normal" fill="#231815">流</text>
<text x="366.20" y="536.40" font-size="18" text-anchor="start" font-family="Liberation Serif" font-weight="normal" fill="#231815">管</text>
<text x="386.20" y="536.40" font-size="18" text-anchor="start" font-family="Liberation Serif" font-weight="normal" fill="#231815">反</text>
<text x="407.00" y="536.40" font-size="18" text-anchor="start" font-family="Liberation Serif" font-weight="normal" fill="#231815">并</text>
<text x="427.80" y="536.40" font-size="18" text-anchor="start" font-family="Liberation Serif" font-weight="normal" fill="#231815">联</text>
<text x="440.00" y="536.40" font-size="18" text-anchor="start" font-family="Liberation Serif" font-weight="normal" fill="#231815">，</text>
<text x="468.00" y="536.40" font-size="18" text-anchor="start" font-family="Liberation Serif" font-weight="normal" fill="#231815" textLength="17.00" lengthAdjust="spacingAndGlyphs">△</text>
<text x="487.00" y="536.40" font-size="18" text-anchor="start" font-family="Liberation Serif" font-weight="normal" fill="#231815">形</text>
<text x="507.80" y="536.40" font-size="18" text-anchor="start" font-family="Liberation Serif" font-weight="normal" fill="#231815">接</text>
<text x="528.70" y="536.40" font-size="18" text-anchor="start" font-family="Liberation Serif" font-weight="normal" fill="#231815">法</text>
<text x="548.70" y="536.40" font-size="18" text-anchor="start" font-family="Liberation Serif" font-weight="normal" fill="#231815">或</text>
<text x="566.50" y="536.40" font-size="18" text-anchor="start" font-family="Liberation Serif" font-weight="normal" fill="#231815" textLength="11.00" lengthAdjust="spacingAndGlyphs">Y</text>
<text x="578.70" y="536.40" font-size="18" text-anchor="start" font-family="Liberation Serif" font-weight="normal" fill="#231815">形</text>
<text x="599.50" y="536.40" font-size="18" text-anchor="start" font-family="Liberation Serif" font-weight="normal" fill="#231815">接</text>
<text x="620.30" y="536.40" font-size="18" text-anchor="start" font-family="Liberation Serif" font-weight="normal" fill="#231815">法</text>
<text x="639.80" y="536.40" font-size="18" text-anchor="start" font-family="Liberation Serif" font-weight="normal" fill="#231815">星</text>
<text x="660.50" y="536.40" font-size="18" text-anchor="start" font-family="Liberation Serif" font-weight="normal" fill="#231815">点</text>
<text x="680.10" y="536.40" font-size="18" text-anchor="start" font-family="Liberation Serif" font-weight="normal" fill="#231815">不</text>
<text x="701.50" y="536.40" font-size="18" text-anchor="start" font-family="Liberation Serif" font-weight="normal" fill="#231815">接</text>
<text x="720.50" y="536.40" font-size="18" text-anchor="start" font-family="Liberation Serif" font-weight="normal" fill="#231815" textLength="10.50" lengthAdjust="spacingAndGlyphs">N</text>
<text x="732.00" y="536.40" font-size="18" text-anchor="start" font-family="Liberation Serif" font-weight="normal" fill="#231815">）</text>
<path d="M705.60,1014.40 H92.00 V609.50" stroke="#6a6262" stroke-width="1.0" fill="none"/>
<path d="M732.50,998.20 H111.60 V664.30" stroke="#6a6262" stroke-width="1.0" fill="none"/>
<path d="M759.60,981.70 H131.50 V720.00" stroke="#6a6262" stroke-width="1.0" fill="none"/>
<line x1="92.00" y1="609.50" x2="499.30" y2="609.50" stroke="#6a6262" stroke-width="1.0"/>
<line x1="555.10" y1="609.50" x2="972.00" y2="609.50" stroke="#6a6262" stroke-width="1.0"/>
<path d="M499.30,609.50 V590.90 H555.10 V627.50 H499.30 Z" stroke="#6a6262" stroke-width="0.9" fill="none"/>
<line x1="520.50" y1="583.50" x2="520.50" y2="598.30" stroke="#6a6262" stroke-width="0.9"/>
<path d="M533.50,583.50 L520.50,590.90 L533.50,598.30 Z" stroke="#6a6262" stroke-width="0.9" fill="none"/>
<line x1="533.50" y1="620.10" x2="533.50" y2="634.90" stroke="#6a6262" stroke-width="0.9"/>
<path d="M520.50,620.10 L533.50,627.50 L520.50,634.90 Z" stroke="#6a6262" stroke-width="0.9" fill="none"/>
<path d="M533.50,627.50 L542.60,634.10 V771.00" stroke="#6a6262" stroke-width="0.9" fill="none"/>
<circle cx="499.30" cy="609.50" r="2.6" fill="#231815"/>
<circle cx="555.10" cy="609.50" r="2.6" fill="#231815"/>
<text x="534.30" y="649.00" font-size="14" text-anchor="middle" font-family="Liberation Sans" font-weight="bold" fill="#231815" textLength="7.20" lengthAdjust="spacingAndGlyphs">G</text>
<circle cx="570.80" cy="609.50" r="2.6" fill="#231815"/>
<line x1="570.80" y1="609.50" x2="570.80" y2="771.00" stroke="#6a6262" stroke-width="1.0"/>
<text x="571.00" y="605.30" font-size="14" text-anchor="middle" font-family="Liberation Sans" font-weight="bold" fill="#231815" textLength="7.20" lengthAdjust="spacingAndGlyphs">K</text>
<line x1="111.60" y1="664.30" x2="606.60" y2="664.30" stroke="#6a6262" stroke-width="1.0"/>
<line x1="662.40" y1="664.30" x2="891.80" y2="664.30" stroke="#6a6262" stroke-width="1.0"/>
<path d="M606.60,664.30 V645.70 H662.40 V682.30 H606.60 Z" stroke="#6a6262" stroke-width="0.9" fill="none"/>
<line x1="627.80" y1="638.30" x2="627.80" y2="653.10" stroke="#6a6262" stroke-width="0.9"/>
<path d="M640.80,638.30 L627.80,645.70 L640.80,653.10 Z" stroke="#6a6262" stroke-width="0.9" fill="none"/>
<line x1="640.80" y1="674.90" x2="640.80" y2="689.70" stroke="#6a6262" stroke-width="0.9"/>
<path d="M627.80,674.90 L640.80,682.30 L627.80,689.70 Z" stroke="#6a6262" stroke-width="0.9" fill="none"/>
<path d="M640.80,682.30 L649.90,688.90 V771.00" stroke="#6a6262" stroke-width="0.9" fill="none"/>
<circle cx="606.60" cy="664.30" r="2.6" fill="#231815"/>
<circle cx="662.40" cy="664.30" r="2.6" fill="#231815"/>
<text x="641.60" y="703.80" font-size="14" text-anchor="middle" font-family="Liberation Sans" font-weight="bold" fill="#231815" textLength="7.20" lengthAdjust="spacingAndGlyphs">G</text>
<circle cx="678.10" cy="664.30" r="2.6" fill="#231815"/>
<line x1="678.10" y1="664.30" x2="678.10" y2="771.00" stroke="#6a6262" stroke-width="1.0"/>
<text x="678.30" y="660.10" font-size="14" text-anchor="middle" font-family="Liberation Sans" font-weight="bold" fill="#231815" textLength="7.20" lengthAdjust="spacingAndGlyphs">K</text>
<line x1="131.50" y1="720.00" x2="715.90" y2="720.00" stroke="#6a6262" stroke-width="1.0"/>
<line x1="771.70" y1="720.00" x2="972.00" y2="720.00" stroke="#6a6262" stroke-width="1.0"/>
<path d="M715.90,720.00 V701.40 H771.70 V738.00 H715.90 Z" stroke="#6a6262" stroke-width="0.9" fill="none"/>
<line x1="737.10" y1="694.00" x2="737.10" y2="708.80" stroke="#6a6262" stroke-width="0.9"/>
<path d="M750.10,694.00 L737.10,701.40 L750.10,708.80 Z" stroke="#6a6262" stroke-width="0.9" fill="none"/>
<line x1="750.10" y1="730.60" x2="750.10" y2="745.40" stroke="#6a6262" stroke-width="0.9"/>
<path d="M737.10,730.60 L750.10,738.00 L737.10,745.40 Z" stroke="#6a6262" stroke-width="0.9" fill="none"/>
<path d="M750.10,738.00 L759.20,744.60 V771.00" stroke="#6a6262" stroke-width="0.9" fill="none"/>
<circle cx="715.90" cy="720.00" r="2.6" fill="#231815"/>
<circle cx="771.70" cy="720.00" r="2.6" fill="#231815"/>
<text x="750.90" y="759.50" font-size="14" text-anchor="middle" font-family="Liberation Sans" font-weight="bold" fill="#231815" textLength="7.20" lengthAdjust="spacingAndGlyphs">G</text>
<circle cx="787.40" cy="720.00" r="2.6" fill="#231815"/>
<line x1="787.40" y1="720.00" x2="787.40" y2="771.00" stroke="#6a6262" stroke-width="1.0"/>
<text x="787.60" y="715.80" font-size="14" text-anchor="middle" font-family="Liberation Sans" font-weight="bold" fill="#231815" textLength="7.20" lengthAdjust="spacingAndGlyphs">K</text>
<rect x="826.50" y="605.40" width="17.00" height="8.10" stroke="#6a6262" stroke-width="0.9" fill="#fff"/>
<line x1="826.50" y1="609.50" x2="843.50" y2="609.50" stroke="#6a6262" stroke-width="0.9"/>
<text x="835.00" y="600.80" font-size="14" text-anchor="middle" font-family="Liberation Sans" font-weight="bold" fill="#231815" textLength="15.80" lengthAdjust="spacingAndGlyphs">FU</text>
<rect x="826.50" y="660.20" width="17.00" height="8.10" stroke="#6a6262" stroke-width="0.9" fill="#fff"/>
<line x1="826.50" y1="664.30" x2="843.50" y2="664.30" stroke="#6a6262" stroke-width="0.9"/>
<text x="835.00" y="655.60" font-size="14" text-anchor="middle" font-family="Liberation Sans" font-weight="bold" fill="#231815" textLength="15.80" lengthAdjust="spacingAndGlyphs">FU</text>
<rect x="826.50" y="715.90" width="17.00" height="8.10" stroke="#6a6262" stroke-width="0.9" fill="#fff"/>
<line x1="826.50" y1="720.00" x2="843.50" y2="720.00" stroke="#6a6262" stroke-width="0.9"/>
<text x="835.00" y="711.30" font-size="14" text-anchor="middle" font-family="Liberation Sans" font-weight="bold" fill="#231815" textLength="15.80" lengthAdjust="spacingAndGlyphs">FU</text>
<path d="M324.60,771.00 L324.60,601.30 C324.60,597.80 326.59,595.30 329.28,595.30 C331.08,595.30 332.57,596.50 333.57,598.30 C334.76,600.30 334.56,604.60 333.57,604.60 C332.57,604.60 332.17,600.80 333.57,598.30 C334.56,596.50 336.06,595.30 337.85,595.30 C339.74,595.30 341.14,596.50 342.23,598.30 C343.43,600.30 343.23,604.60 342.23,604.60 C341.24,604.60 340.84,600.80 342.23,598.30 C343.23,596.50 344.73,595.30 346.52,595.30 C349.51,595.30 351.50,597.80 351.50,601.30 L351.50,771.00" stroke="#6a6262" stroke-width="0.9" fill="none"/>
<circle cx="351.50" cy="631.70" r="8.2" fill="#fff" stroke="#6a6262" stroke-width="0.9"/>
<text x="351.50" y="636.70" font-size="15" text-anchor="middle" font-family="Liberation Sans" font-weight="bold" fill="#231815" textLength="8" lengthAdjust="spacingAndGlyphs">A</text>
<path d="M379.70,771.00 L379.70,658.10 C379.70,654.60 381.74,652.10 384.50,652.10 C386.34,652.10 387.88,653.30 388.90,655.10 C390.13,657.10 389.92,661.40 388.90,661.40 C387.88,661.40 387.47,657.60 388.90,655.10 C389.92,653.30 391.46,652.10 393.30,652.10 C395.24,652.10 396.67,653.30 397.79,655.10 C399.02,657.10 398.82,661.40 397.79,661.40 C396.77,661.40 396.36,657.60 397.79,655.10 C398.82,653.30 400.35,652.10 402.19,652.10 C405.26,652.10 407.30,654.60 407.30,658.10 L407.30,771.00" stroke="#6a6262" stroke-width="0.9" fill="none"/>
<circle cx="407.30" cy="688.30" r="8.0" fill="#fff" stroke="#6a6262" stroke-width="0.9"/>
<text x="407.30" y="693.30" font-size="15" text-anchor="middle" font-family="Liberation Sans" font-weight="bold" fill="#231815" textLength="8" lengthAdjust="spacingAndGlyphs">A</text>
<path d="M433.90,771.00 L433.90,713.20 C433.90,709.70 435.94,707.20 438.70,707.20 C440.54,707.20 442.08,708.40 443.10,710.20 C444.33,712.20 444.12,716.50 443.10,716.50 C442.08,716.50 441.67,712.70 443.10,710.20 C444.12,708.40 445.66,707.20 447.50,707.20 C449.44,707.20 450.87,708.40 451.99,710.20 C453.22,712.20 453.02,716.50 451.99,716.50 C450.97,716.50 450.56,712.70 451.99,710.20 C453.02,708.40 454.55,707.20 456.39,707.20 C459.46,707.20 461.50,709.70 461.50,713.20 L461.50,771.00" stroke="#6a6262" stroke-width="0.9" fill="none"/>
<circle cx="461.50" cy="743.90" r="8.2" fill="#fff" stroke="#6a6262" stroke-width="0.9"/>
<text x="461.50" y="748.90" font-size="15" text-anchor="middle" font-family="Liberation Sans" font-weight="bold" fill="#231815" textLength="8" lengthAdjust="spacingAndGlyphs">A</text>
<path d="M868.40,595.00 H999.40" stroke="#6b6363" stroke-width="1" fill="none" stroke-dasharray="8 8"/>
<path d="M863.40,598.00 V730.60" stroke="#6b6363" stroke-width="1" fill="none" stroke-dasharray="8 8"/>
<path d="M999.40,595.00 V730.60" stroke="#6b6363" stroke-width="1" fill="none" stroke-dasharray="8 8"/>
<path d="M999.40,730.60 H863.40" stroke="#6b6363" stroke-width="1" fill="none" stroke-dasharray="8 8"/>
<path d="M863.40,726.60 V730.60 H867.40" stroke="#6b6363" stroke-width="1" fill="none"/>
<path d="M913.1,664.4 H926" stroke="#6a6262" stroke-width="1.0" fill="none"/>
<rect x="891.80" y="660.40" width="21.30" height="8.30" stroke="#6a6262" stroke-width="0.9" fill="#fff"/>
<path d="M926,664.4 L972,609.5" stroke="#6a6262" stroke-width="1.0" fill="none"/>
<path d="M926,664.4 L972,720.2" stroke="#6a6262" stroke-width="1.0" fill="none"/>
<rect x="-10.00" y="-4.00" width="20.00" height="8.00" fill="#fff" stroke="#6a6262" stroke-width="0.9" transform="translate(943.10,643.70) rotate(-50.00)"/>
<rect x="-10.00" y="-4.00" width="20.00" height="8.00" fill="#fff" stroke="#6a6262" stroke-width="0.9" transform="translate(943.50,682.90) rotate(50.00)"/>
<circle cx="926.00" cy="664.40" r="2.6" fill="#231815"/>
<text x="965.70" y="668.00" font-size="14.5" text-anchor="middle" font-family="Liberation Sans" font-weight="normal" fill="#231815" textLength="15.00" lengthAdjust="spacingAndGlyphs" stroke="#231815" stroke-width="0.45">RL</text>
<path d="M868.70,765.00 H999.50" stroke="#6b6363" stroke-width="1" fill="none" stroke-dasharray="8 8"/>
<path d="M863.70,768.00 V901.20" stroke="#6b6363" stroke-width="1" fill="none" stroke-dasharray="8 8"/>
<path d="M999.50,765.00 V901.20" stroke="#6b6363" stroke-width="1" fill="none" stroke-dasharray="8 8"/>
<path d="M999.50,901.20 H863.70" stroke="#6b6363" stroke-width="1" fill="none" stroke-dasharray="8 8"/>
<path d="M863.70,897.20 V901.20 H867.70" stroke="#6b6363" stroke-width="1" fill="none"/>
<path d="M841.7,784.7 H931.3 L976.2,861 V884.2 H841.7" stroke="#6a6262" stroke-width="1.0" fill="none"/>
<path d="M841.7,861 H976.2" stroke="#6a6262" stroke-width="1.0" fill="none"/>
<path d="M931.3,784.7 L887.8,861" stroke="#6a6262" stroke-width="1.0" fill="none"/>
<rect x="-10.00" y="-4.00" width="20.00" height="8.00" fill="#fff" stroke="#6a6262" stroke-width="0.9" transform="translate(909.55,822.85) rotate(-59.70)"/>
<rect x="-10.00" y="-4.00" width="20.00" height="8.00" fill="#fff" stroke="#6a6262" stroke-width="0.9" transform="translate(953.75,822.85) rotate(59.50)"/>
<rect x="919.50" y="857.20" width="21.00" height="8.30" stroke="#6a6262" stroke-width="0.9" fill="#fff"/>
<text x="930.50" y="840.80" font-size="14.5" text-anchor="middle" font-family="Liberation Sans" font-weight="normal" fill="#231815" textLength="15.50" lengthAdjust="spacingAndGlyphs" stroke="#231815" stroke-width="0.45">RL</text>
<rect x="148.70" y="771.00" width="651.91" height="130.30" stroke="#3a3232" stroke-width="1.5" fill="none"/>
<line x1="148.70" y1="794.50" x2="800.61" y2="794.50" stroke="#4a4242" stroke-width="1.0"/>
<line x1="148.70" y1="818.10" x2="800.61" y2="818.10" stroke="#4a4242" stroke-width="1.0"/>
<line x1="148.70" y1="854.20" x2="800.61" y2="854.20" stroke="#4a4242" stroke-width="1.0"/>
<line x1="148.70" y1="878.30" x2="800.61" y2="878.30" stroke="#4a4242" stroke-width="1.0"/>
<line x1="175.86" y1="771.00" x2="175.86" y2="794.50" stroke="#4a4242" stroke-width="0.9"/>
<line x1="203.03" y1="771.00" x2="203.03" y2="794.50" stroke="#4a4242" stroke-width="0.9"/>
<line x1="230.19" y1="771.00" x2="230.19" y2="794.50" stroke="#4a4242" stroke-width="0.9"/>
<line x1="257.35" y1="771.00" x2="257.35" y2="794.50" stroke="#4a4242" stroke-width="0.9"/>
<line x1="284.51" y1="771.00" x2="284.51" y2="794.50" stroke="#4a4242" stroke-width="0.9"/>
<line x1="311.68" y1="771.00" x2="311.68" y2="794.50" stroke="#4a4242" stroke-width="0.9"/>
<line x1="338.84" y1="771.00" x2="338.84" y2="794.50" stroke="#4a4242" stroke-width="0.9"/>
<line x1="366.00" y1="771.00" x2="366.00" y2="794.50" stroke="#4a4242" stroke-width="0.9"/>
<line x1="393.17" y1="771.00" x2="393.17" y2="794.50" stroke="#4a4242" stroke-width="0.9"/>
<line x1="420.33" y1="771.00" x2="420.33" y2="794.50" stroke="#4a4242" stroke-width="0.9"/>
<line x1="447.49" y1="771.00" x2="447.49" y2="794.50" stroke="#4a4242" stroke-width="0.9"/>
<line x1="474.66" y1="771.00" x2="474.66" y2="794.50" stroke="#4a4242" stroke-width="0.9"/>
<line x1="501.82" y1="771.00" x2="501.82" y2="794.50" stroke="#4a4242" stroke-width="0.9"/>
<line x1="528.98" y1="771.00" x2="528.98" y2="794.50" stroke="#4a4242" stroke-width="0.9"/>
<line x1="556.14" y1="771.00" x2="556.14" y2="794.50" stroke="#4a4242" stroke-width="0.9"/>
<line x1="583.31" y1="771.00" x2="583.31" y2="794.50" stroke="#4a4242" stroke-width="0.9"/>
<line x1="610.47" y1="771.00" x2="610.47" y2="794.50" stroke="#4a4242" stroke-width="0.9"/>
<line x1="637.63" y1="771.00" x2="637.63" y2="794.50" stroke="#4a4242" stroke-width="0.9"/>
<line x1="664.80" y1="771.00" x2="664.80" y2="794.50" stroke="#4a4242" stroke-width="0.9"/>
<line x1="691.96" y1="771.00" x2="691.96" y2="794.50" stroke="#4a4242" stroke-width="0.9"/>
<line x1="719.12" y1="771.00" x2="719.12" y2="794.50" stroke="#4a4242" stroke-width="0.9"/>
<line x1="746.29" y1="771.00" x2="746.29" y2="794.50" stroke="#4a4242" stroke-width="0.9"/>
<line x1="773.45" y1="771.00" x2="773.45" y2="794.50" stroke="#4a4242" stroke-width="0.9"/>
<line x1="175.86" y1="794.50" x2="175.86" y2="818.10" stroke="#4a4242" stroke-width="0.9"/>
<line x1="203.03" y1="794.50" x2="203.03" y2="818.10" stroke="#4a4242" stroke-width="0.9"/>
<line x1="230.19" y1="794.50" x2="230.19" y2="818.10" stroke="#4a4242" stroke-width="0.9"/>
<line x1="257.35" y1="794.50" x2="257.35" y2="818.10" stroke="#4a4242" stroke-width="0.9"/>
<line x1="311.68" y1="794.50" x2="311.68" y2="818.10" stroke="#4a4242" stroke-width="0.9"/>
<line x1="366.00" y1="794.50" x2="366.00" y2="818.10" stroke="#4a4242" stroke-width="0.9"/>
<line x1="420.33" y1="794.50" x2="420.33" y2="818.10" stroke="#4a4242" stroke-width="0.9"/>
<line x1="474.66" y1="794.50" x2="474.66" y2="818.10" stroke="#4a4242" stroke-width="0.9"/>
<line x1="583.31" y1="794.50" x2="583.31" y2="818.10" stroke="#4a4242" stroke-width="0.9"/>
<line x1="691.96" y1="794.50" x2="691.96" y2="818.10" stroke="#4a4242" stroke-width="0.9"/>
<line x1="203.03" y1="854.20" x2="203.03" y2="878.30" stroke="#4a4242" stroke-width="0.9"/>
<line x1="284.51" y1="854.20" x2="284.51" y2="878.30" stroke="#4a4242" stroke-width="0.9"/>
<line x1="338.84" y1="854.20" x2="338.84" y2="878.30" stroke="#4a4242" stroke-width="0.9"/>
<line x1="420.33" y1="854.20" x2="420.33" y2="878.30" stroke="#4a4242" stroke-width="0.9"/>
<line x1="501.82" y1="854.20" x2="501.82" y2="878.30" stroke="#4a4242" stroke-width="0.9"/>
<line x1="583.31" y1="854.20" x2="583.31" y2="878.30" stroke="#4a4242" stroke-width="0.9"/>
<line x1="610.47" y1="854.20" x2="610.47" y2="878.30" stroke="#4a4242" stroke-width="0.9"/>
<line x1="637.63" y1="854.20" x2="637.63" y2="878.30" stroke="#4a4242" stroke-width="0.9"/>
<line x1="664.80" y1="854.20" x2="664.80" y2="878.30" stroke="#4a4242" stroke-width="0.9"/>
<line x1="691.96" y1="854.20" x2="691.96" y2="878.30" stroke="#4a4242" stroke-width="0.9"/>
<line x1="175.86" y1="878.30" x2="175.86" y2="901.30" stroke="#4a4242" stroke-width="0.9"/>
<line x1="203.03" y1="878.30" x2="203.03" y2="901.30" stroke="#4a4242" stroke-width="0.9"/>
<line x1="230.19" y1="878.30" x2="230.19" y2="901.30" stroke="#4a4242" stroke-width="0.9"/>
<line x1="257.35" y1="878.30" x2="257.35" y2="901.30" stroke="#4a4242" stroke-width="0.9"/>
<line x1="284.51" y1="878.30" x2="284.51" y2="901.30" stroke="#4a4242" stroke-width="0.9"/>
<line x1="311.68" y1="878.30" x2="311.68" y2="901.30" stroke="#4a4242" stroke-width="0.9"/>
<line x1="338.84" y1="878.30" x2="338.84" y2="901.30" stroke="#4a4242" stroke-width="0.9"/>
<line x1="366.00" y1="878.30" x2="366.00" y2="901.30" stroke="#4a4242" stroke-width="0.9"/>
<line x1="393.17" y1="878.30" x2="393.17" y2="901.30" stroke="#4a4242" stroke-width="0.9"/>
<line x1="420.33" y1="878.30" x2="420.33" y2="901.30" stroke="#4a4242" stroke-width="0.9"/>
<line x1="447.49" y1="878.30" x2="447.49" y2="901.30" stroke="#4a4242" stroke-width="0.9"/>
<line x1="474.66" y1="878.30" x2="474.66" y2="901.30" stroke="#4a4242" stroke-width="0.9"/>
<line x1="501.82" y1="878.30" x2="501.82" y2="901.30" stroke="#4a4242" stroke-width="0.9"/>
<line x1="528.98" y1="878.30" x2="528.98" y2="901.30" stroke="#4a4242" stroke-width="0.9"/>
<line x1="556.14" y1="878.30" x2="556.14" y2="901.30" stroke="#4a4242" stroke-width="0.9"/>
<line x1="583.31" y1="878.30" x2="583.31" y2="901.30" stroke="#4a4242" stroke-width="0.9"/>
<line x1="610.47" y1="878.30" x2="610.47" y2="901.30" stroke="#4a4242" stroke-width="0.9"/>
<line x1="637.63" y1="878.30" x2="637.63" y2="901.30" stroke="#4a4242" stroke-width="0.9"/>
<line x1="664.80" y1="878.30" x2="664.80" y2="901.30" stroke="#4a4242" stroke-width="0.9"/>
<line x1="691.96" y1="878.30" x2="691.96" y2="901.30" stroke="#4a4242" stroke-width="0.9"/>
<line x1="719.12" y1="878.30" x2="719.12" y2="901.30" stroke="#4a4242" stroke-width="0.9"/>
<line x1="746.29" y1="878.30" x2="746.29" y2="901.30" stroke="#4a4242" stroke-width="0.9"/>
<line x1="773.45" y1="878.30" x2="773.45" y2="901.30" stroke="#4a4242" stroke-width="0.9"/>
<text x="270.93" y="790.00" font-size="18.5" text-anchor="middle" font-family="Liberation Sans" font-weight="normal" fill="#231815" textLength="21.81" lengthAdjust="spacingAndGlyphs" stroke="#231815" stroke-width="0.35">Din</text>
<text x="298.10" y="790.00" font-size="18.5" text-anchor="middle" font-family="Liberation Sans" font-weight="normal" fill="#231815" textLength="21.81" lengthAdjust="spacingAndGlyphs" stroke="#231815" stroke-width="0.35">Din</text>
<text x="325.26" y="790.00" font-size="18.5" text-anchor="middle" font-family="Liberation Sans" font-weight="normal" fill="#231815" textLength="15.58" lengthAdjust="spacingAndGlyphs" stroke="#231815" stroke-width="0.35">IC</text>
<text x="352.42" y="790.00" font-size="18.5" text-anchor="middle" font-family="Liberation Sans" font-weight="normal" fill="#231815" textLength="15.58" lengthAdjust="spacingAndGlyphs" stroke="#231815" stroke-width="0.35">IC</text>
<text x="379.59" y="790.00" font-size="18.5" text-anchor="middle" font-family="Liberation Sans" font-weight="normal" fill="#231815" textLength="15.58" lengthAdjust="spacingAndGlyphs" stroke="#231815" stroke-width="0.35">IB</text>
<text x="406.75" y="790.00" font-size="18.5" text-anchor="middle" font-family="Liberation Sans" font-weight="normal" fill="#231815" textLength="15.58" lengthAdjust="spacingAndGlyphs" stroke="#231815" stroke-width="0.35">IB</text>
<text x="433.91" y="790.00" font-size="18.5" text-anchor="middle" font-family="Liberation Sans" font-weight="normal" fill="#231815" textLength="15.58" lengthAdjust="spacingAndGlyphs" stroke="#231815" stroke-width="0.35">IA</text>
<text x="461.07" y="790.00" font-size="18.5" text-anchor="middle" font-family="Liberation Sans" font-weight="normal" fill="#231815" textLength="15.58" lengthAdjust="spacingAndGlyphs" stroke="#231815" stroke-width="0.35">IA</text>
<text x="488.24" y="790.00" font-size="18.5" text-anchor="middle" font-family="Liberation Sans" font-weight="normal" fill="#231815" textLength="18.69" lengthAdjust="spacingAndGlyphs" stroke="#231815" stroke-width="0.35">G6</text>
<text x="515.40" y="790.00" font-size="18.5" text-anchor="middle" font-family="Liberation Sans" font-weight="normal" fill="#231815" textLength="18.69" lengthAdjust="spacingAndGlyphs" stroke="#231815" stroke-width="0.35">K6</text>
<text x="542.56" y="790.00" font-size="18.5" text-anchor="middle" font-family="Liberation Sans" font-weight="normal" fill="#231815" textLength="18.69" lengthAdjust="spacingAndGlyphs" stroke="#231815" stroke-width="0.35">G5</text>
<text x="569.73" y="790.00" font-size="18.5" text-anchor="middle" font-family="Liberation Sans" font-weight="normal" fill="#231815" textLength="18.69" lengthAdjust="spacingAndGlyphs" stroke="#231815" stroke-width="0.35">K5</text>
<text x="596.89" y="790.00" font-size="18.5" text-anchor="middle" font-family="Liberation Sans" font-weight="normal" fill="#231815" textLength="18.69" lengthAdjust="spacingAndGlyphs" stroke="#231815" stroke-width="0.35">G4</text>
<text x="624.05" y="790.00" font-size="18.5" text-anchor="middle" font-family="Liberation Sans" font-weight="normal" fill="#231815" textLength="18.69" lengthAdjust="spacingAndGlyphs" stroke="#231815" stroke-width="0.35">K4</text>
<text x="651.22" y="790.00" font-size="18.5" text-anchor="middle" font-family="Liberation Sans" font-weight="normal" fill="#231815" textLength="18.69" lengthAdjust="spacingAndGlyphs" stroke="#231815" stroke-width="0.35">G3</text>
<text x="678.38" y="790.00" font-size="18.5" text-anchor="middle" font-family="Liberation Sans" font-weight="normal" fill="#231815" textLength="18.69" lengthAdjust="spacingAndGlyphs" stroke="#231815" stroke-width="0.35">K3</text>
<text x="705.54" y="790.00" font-size="18.5" text-anchor="middle" font-family="Liberation Sans" font-weight="normal" fill="#231815" textLength="18.69" lengthAdjust="spacingAndGlyphs" stroke="#231815" stroke-width="0.35">G2</text>
<text x="732.70" y="790.00" font-size="18.5" text-anchor="middle" font-family="Liberation Sans" font-weight="normal" fill="#231815" textLength="18.69" lengthAdjust="spacingAndGlyphs" stroke="#231815" stroke-width="0.35">K2</text>
<text x="759.87" y="790.00" font-size="18.5" text-anchor="middle" font-family="Liberation Sans" font-weight="normal" fill="#231815" textLength="18.69" lengthAdjust="spacingAndGlyphs" stroke="#231815" stroke-width="0.35">G1</text>
<text x="787.03" y="790.00" font-size="18.5" text-anchor="middle" font-family="Liberation Sans" font-weight="normal" fill="#231815" textLength="18.69" lengthAdjust="spacingAndGlyphs" stroke="#231815" stroke-width="0.35">K1</text>
<text x="285.10" y="813.10" font-size="15" text-anchor="middle" font-family="Liberation Sans" font-weight="normal" fill="#231815" textLength="29.60" lengthAdjust="spacingAndGlyphs" stroke="#231815" stroke-width="0.35">保留</text>
<text x="339.35" y="813.10" font-size="15" text-anchor="middle" font-family="Liberation Sans" font-weight="normal" fill="#231815" textLength="52.50" lengthAdjust="spacingAndGlyphs" stroke="#231815" stroke-width="0.35">C相电流</text>
<text x="393.25" y="813.10" font-size="15" text-anchor="middle" font-family="Liberation Sans" font-weight="normal" fill="#231815" textLength="52.90" lengthAdjust="spacingAndGlyphs" stroke="#231815" stroke-width="0.35">B相电流</text>
<text x="447.50" y="813.10" font-size="15" text-anchor="middle" font-family="Liberation Sans" font-weight="normal" fill="#231815" textLength="53.20" lengthAdjust="spacingAndGlyphs" stroke="#231815" stroke-width="0.35">A相电流</text>
<text x="532.35" y="813.10" font-size="15" text-anchor="middle" font-family="Liberation Sans" font-weight="normal" fill="#231815" textLength="80.10" lengthAdjust="spacingAndGlyphs" stroke="#231815" stroke-width="0.35">C相触发输出</text>
<text x="639.90" y="813.10" font-size="15" text-anchor="middle" font-family="Liberation Sans" font-weight="normal" fill="#231815" textLength="81.20" lengthAdjust="spacingAndGlyphs" stroke="#231815" stroke-width="0.35">B相触发输出</text>
<text x="747.75" y="813.10" font-size="15" text-anchor="middle" font-family="Liberation Sans" font-weight="normal" fill="#231815" textLength="81.30" lengthAdjust="spacingAndGlyphs" stroke="#231815" stroke-width="0.35">A相触发输出</text>
<text x="174.50" y="872.50" font-size="15" text-anchor="middle" font-family="Liberation Sans" font-weight="normal" fill="#231815" textLength="32.60" lengthAdjust="spacingAndGlyphs" stroke="#231815" stroke-width="0.35">电源</text>
<text x="244.35" y="872.50" font-size="15" text-anchor="middle" font-family="Liberation Sans" font-weight="normal" fill="#231815" textLength="73.30" lengthAdjust="spacingAndGlyphs" stroke="#231815" stroke-width="0.35">报警继电器</text>
<text x="311.85" y="872.50" font-size="15" text-anchor="middle" font-family="Liberation Sans" font-weight="normal" fill="#231815" textLength="52.50" lengthAdjust="spacingAndGlyphs" stroke="#231815" stroke-width="0.35">模拟输入</text>
<text x="377.55" y="872.50" font-size="15" text-anchor="middle" font-family="Liberation Sans" font-weight="normal" fill="#231815" textLength="58.70" lengthAdjust="spacingAndGlyphs" stroke="#231815" stroke-width="0.35">输入选择</text>
<text x="459.85" y="872.50" font-size="15" text-anchor="middle" font-family="Liberation Sans" font-weight="normal" fill="#231815" textLength="73.50" lengthAdjust="spacingAndGlyphs" stroke="#231815" stroke-width="0.35">手操电位器</text>
<text x="542.60" y="872.50" font-size="15" text-anchor="middle" font-family="Liberation Sans" font-weight="normal" fill="#231815" textLength="73.00" lengthAdjust="spacingAndGlyphs" stroke="#231815" stroke-width="0.35">限流电位器</text>
<text x="746.85" y="872.50" font-size="15" text-anchor="middle" font-family="Liberation Sans" font-weight="normal" fill="#231815" textLength="58.70" lengthAdjust="spacingAndGlyphs" stroke="#231815" stroke-width="0.35">过零检测</text>
<text x="162.28" y="896.30" font-size="18.5" text-anchor="middle" font-family="Liberation Sans" font-weight="normal" fill="#231815" textLength="8.31" lengthAdjust="spacingAndGlyphs" stroke="#231815" stroke-width="0.35">L</text>
<text x="189.44" y="896.30" font-size="18.5" text-anchor="middle" font-family="Liberation Sans" font-weight="normal" fill="#231815" textLength="9.35" lengthAdjust="spacingAndGlyphs" stroke="#231815" stroke-width="0.35">N</text>
<text x="216.61" y="896.30" font-size="18.5" text-anchor="middle" font-family="Liberation Sans" font-weight="normal" fill="#231815" textLength="17.65" lengthAdjust="spacingAndGlyphs" stroke="#231815" stroke-width="0.35">NO</text>
<text x="243.77" y="896.30" font-size="18.5" text-anchor="middle" font-family="Liberation Sans" font-weight="normal" fill="#231815" textLength="17.65" lengthAdjust="spacingAndGlyphs" stroke="#231815" stroke-width="0.35">NC</text>
<text x="270.93" y="896.30" font-size="18.5" text-anchor="middle" font-family="Liberation Sans" font-weight="normal" fill="#231815" textLength="21.81" lengthAdjust="spacingAndGlyphs" stroke="#231815" stroke-width="0.35">Com</text>
<text x="298.10" y="896.30" font-size="18.5" text-anchor="middle" font-family="Liberation Sans" font-weight="normal" fill="#231815" textLength="10.38" lengthAdjust="spacingAndGlyphs" stroke="#231815" stroke-width="0.35">−</text>
<text x="325.26" y="896.30" font-size="18.5" text-anchor="middle" font-family="Liberation Sans" font-weight="normal" fill="#231815" textLength="10.38" lengthAdjust="spacingAndGlyphs" stroke="#231815" stroke-width="0.35">+</text>
<text x="352.42" y="896.30" font-size="18.5" text-anchor="middle" font-family="Liberation Sans" font-weight="normal" fill="#231815" textLength="21.81" lengthAdjust="spacingAndGlyphs" stroke="#231815" stroke-width="0.35">Aut</text>
<text x="379.59" y="896.30" font-size="18.5" text-anchor="middle" font-family="Liberation Sans" font-weight="normal" fill="#231815" textLength="21.81" lengthAdjust="spacingAndGlyphs" stroke="#231815" stroke-width="0.35">Com</text>
<text x="406.75" y="896.30" font-size="18.5" text-anchor="middle" font-family="Liberation Sans" font-weight="normal" fill="#231815" textLength="21.81" lengthAdjust="spacingAndGlyphs" stroke="#231815" stroke-width="0.35">Men</text>
<text x="433.91" y="896.30" font-size="18.5" text-anchor="middle" font-family="Liberation Sans" font-weight="normal" fill="#231815" textLength="7.27" lengthAdjust="spacingAndGlyphs" stroke="#231815" stroke-width="0.35">1</text>
<text x="461.07" y="896.30" font-size="18.5" text-anchor="middle" font-family="Liberation Sans" font-weight="normal" fill="#231815" textLength="9.35" lengthAdjust="spacingAndGlyphs" stroke="#231815" stroke-width="0.35">2</text>
<text x="488.24" y="896.30" font-size="18.5" text-anchor="middle" font-family="Liberation Sans" font-weight="normal" fill="#231815" textLength="9.35" lengthAdjust="spacingAndGlyphs" stroke="#231815" stroke-width="0.35">3</text>
<text x="515.40" y="896.30" font-size="18.5" text-anchor="middle" font-family="Liberation Sans" font-weight="normal" fill="#231815" textLength="7.27" lengthAdjust="spacingAndGlyphs" stroke="#231815" stroke-width="0.35">1</text>
<text x="542.56" y="896.30" font-size="18.5" text-anchor="middle" font-family="Liberation Sans" font-weight="normal" fill="#231815" textLength="9.35" lengthAdjust="spacingAndGlyphs" stroke="#231815" stroke-width="0.35">2</text>
<text x="569.73" y="896.30" font-size="18.5" text-anchor="middle" font-family="Liberation Sans" font-weight="normal" fill="#231815" textLength="9.35" lengthAdjust="spacingAndGlyphs" stroke="#231815" stroke-width="0.35">3</text>
<text x="705.54" y="896.30" font-size="18.5" text-anchor="middle" font-family="Liberation Sans" font-weight="normal" fill="#231815" textLength="9.35" lengthAdjust="spacingAndGlyphs" stroke="#231815" stroke-width="0.35">C</text>
<text x="732.70" y="896.30" font-size="18.5" text-anchor="middle" font-family="Liberation Sans" font-weight="normal" fill="#231815" textLength="9.35" lengthAdjust="spacingAndGlyphs" stroke="#231815" stroke-width="0.35">B</text>
<text x="759.87" y="896.30" font-size="18.5" text-anchor="middle" font-family="Liberation Sans" font-weight="normal" fill="#231815" textLength="10.38" lengthAdjust="spacingAndGlyphs" stroke="#231815" stroke-width="0.35">A</text>
<text x="787.03" y="896.30" font-size="18.5" text-anchor="middle" font-family="Liberation Sans" font-weight="normal" fill="#231815" textLength="9.35" lengthAdjust="spacingAndGlyphs" stroke="#231815" stroke-width="0.35">N</text>
<line x1="162.40" y1="901.30" x2="162.40" y2="921.80" stroke="#6a6262" stroke-width="1.0"/>
<circle cx="162.40" cy="924.60" r="2.8" fill="#fff" stroke="#6a6262" stroke-width="0.9"/>
<line x1="189.40" y1="901.30" x2="189.40" y2="921.80" stroke="#6a6262" stroke-width="1.0"/>
<circle cx="189.40" cy="924.60" r="2.8" fill="#fff" stroke="#6a6262" stroke-width="0.9"/>
<line x1="297.80" y1="901.30" x2="297.80" y2="921.80" stroke="#6a6262" stroke-width="1.0"/>
<circle cx="297.80" cy="924.60" r="2.8" fill="#fff" stroke="#6a6262" stroke-width="0.9"/>
<line x1="325.10" y1="901.30" x2="325.10" y2="921.80" stroke="#6a6262" stroke-width="1.0"/>
<circle cx="325.10" cy="924.60" r="2.8" fill="#fff" stroke="#6a6262" stroke-width="0.9"/>
<line x1="352.20" y1="901.30" x2="352.20" y2="921.80" stroke="#6a6262" stroke-width="1.0"/>
<circle cx="352.20" cy="924.60" r="2.8" fill="#fff" stroke="#6a6262" stroke-width="0.9"/>
<line x1="379.30" y1="901.30" x2="379.30" y2="921.80" stroke="#6a6262" stroke-width="1.0"/>
<circle cx="379.30" cy="924.60" r="2.8" fill="#fff" stroke="#6a6262" stroke-width="0.9"/>
<line x1="407.40" y1="901.30" x2="407.40" y2="921.80" stroke="#6a6262" stroke-width="1.0"/>
<circle cx="407.40" cy="924.60" r="2.8" fill="#fff" stroke="#6a6262" stroke-width="0.9"/>
<path d="M216.50,901.30 V930.40 H230.00" stroke="#6a6262" stroke-width="0.9" fill="none"/>
<path d="M243.50,930.40 H274.60 V901.30" stroke="#6a6262" stroke-width="0.9" fill="none"/>
<path d="M245.70,901.30 V920.00 H274.60" stroke="#6a6262" stroke-width="0.9" fill="none"/>
<circle cx="231.80" cy="930.40" r="1.9" fill="#fff" stroke="#6a6262" stroke-width="0.8"/>
<circle cx="242.00" cy="929.40" r="1.9" fill="#fff" stroke="#6a6262" stroke-width="0.8"/>
<line x1="233.50" y1="934.70" x2="240.50" y2="931.60" stroke="#6a6262" stroke-width="0.8"/>
<circle cx="254.20" cy="920.00" r="1.9" fill="#fff" stroke="#6a6262" stroke-width="0.8"/>
<circle cx="264.20" cy="920.00" r="1.9" fill="#fff" stroke="#6a6262" stroke-width="0.8"/>
<path d="M433.90,901.30 V927.00 H451.50" stroke="#6a6262" stroke-width="0.9" fill="none"/>
<path d="M471.50,927.00 H488.50 V901.30" stroke="#6a6262" stroke-width="0.9" fill="none"/>
<rect x="451.50" y="923.00" width="20.00" height="8.00" stroke="#6a6262" stroke-width="0.9" fill="#fff"/>
<line x1="461.20" y1="901.30" x2="461.20" y2="918.00" stroke="#6a6262" stroke-width="0.9"/>
<path d="M458.60,917.00 L463.80,917.00 L461.20,923.00 Z" stroke="#231815" stroke-width="0.5" fill="#231815"/>
<path d="M516.30,901.30 V927.00 H533.30" stroke="#6a6262" stroke-width="0.9" fill="none"/>
<path d="M553.80,927.00 H570.60 V901.30" stroke="#6a6262" stroke-width="0.9" fill="none"/>
<rect x="533.30" y="923.00" width="20.50" height="8.00" stroke="#6a6262" stroke-width="0.9" fill="#fff"/>
<line x1="543.20" y1="901.30" x2="543.20" y2="918.00" stroke="#6a6262" stroke-width="0.9"/>
<path d="M540.60,917.00 L545.80,917.00 L543.20,923.00 Z" stroke="#231815" stroke-width="0.5" fill="#231815"/>
<text x="174.90" y="946.70" font-size="14" text-anchor="middle" font-family="Liberation Sans" font-weight="normal" fill="#231815" textLength="47.00" lengthAdjust="spacingAndGlyphs" stroke="#231815" stroke-width="0.3">AC220V</text>
<text x="260.20" y="915.80" font-size="12.5" text-anchor="middle" font-family="Liberation Sans" font-weight="bold" fill="#231815" textLength="15.30" lengthAdjust="spacingAndGlyphs">NC</text>
<text x="236.30" y="946.70" font-size="12.5" text-anchor="middle" font-family="Liberation Sans" font-weight="bold" fill="#231815" textLength="16.00" lengthAdjust="spacingAndGlyphs">NO</text>
<text x="310.90" y="946.70" font-size="14" text-anchor="middle" font-family="Liberation Sans" font-weight="normal" fill="#231815" textLength="14.50" lengthAdjust="spacingAndGlyphs" stroke="#231815" stroke-width="0.3">IN</text>
<text x="309.20" y="962.60" font-size="14" text-anchor="middle" font-family="Liberation Sans" font-weight="normal" fill="#231815" textLength="32.00" lengthAdjust="spacingAndGlyphs" stroke="#231815" stroke-width="0.3">mA/V</text>
<text x="378.40" y="948.50" font-size="14.5" text-anchor="middle" font-family="Liberation Sans" font-weight="normal" fill="#231815" textLength="21.00" lengthAdjust="spacingAndGlyphs" stroke="#231815" stroke-width="0.3">注1</text>
<text x="433.90" y="948.50" font-size="14.5" text-anchor="start" font-family="Liberation Sans" font-weight="normal" fill="#231815" textLength="6.80" lengthAdjust="spacingAndGlyphs" stroke="#231815" stroke-width="0.3">4</text>
<text x="442.10" y="948.50" font-size="14.5" text-anchor="start" font-family="Liberation Sans" font-weight="normal" fill="#231815" textLength="2.40" lengthAdjust="spacingAndGlyphs" stroke="#231815" stroke-width="0.3">.</text>
<text x="448.90" y="948.50" font-size="14.5" text-anchor="start" font-family="Liberation Sans" font-weight="normal" fill="#231815" textLength="6.60" lengthAdjust="spacingAndGlyphs" stroke="#231815" stroke-width="0.3">7</text>
<text x="456.40" y="948.50" font-size="14.5" text-anchor="start" font-family="Liberation Sans" font-weight="normal" fill="#231815" textLength="15.50" lengthAdjust="spacingAndGlyphs" stroke="#231815" stroke-width="0.3">～</text>
<text x="472.70" y="948.50" font-size="14.5" text-anchor="start" font-family="Liberation Sans" font-weight="normal" fill="#231815" textLength="4.60" lengthAdjust="spacingAndGlyphs" stroke="#231815" stroke-width="0.3">1</text>
<text x="478.50" y="948.50" font-size="14.5" text-anchor="start" font-family="Liberation Sans" font-weight="normal" fill="#231815" textLength="6.60" lengthAdjust="spacingAndGlyphs" stroke="#231815" stroke-width="0.3">0</text>
<text x="485.50" y="948.50" font-size="14.5" text-anchor="start" font-family="Liberation Sans" font-weight="normal" fill="#231815" textLength="6.20" lengthAdjust="spacingAndGlyphs" stroke="#231815" stroke-width="0.3">K</text>
<text x="455.90" y="965.50" font-size="14.5" text-anchor="middle" font-family="Liberation Sans" font-weight="normal" fill="#231815" textLength="41.70" lengthAdjust="spacingAndGlyphs" stroke="#231815" stroke-width="0.3">电位器</text>
<text x="514.40" y="948.50" font-size="14.5" text-anchor="start" font-family="Liberation Sans" font-weight="normal" fill="#231815" textLength="6.80" lengthAdjust="spacingAndGlyphs" stroke="#231815" stroke-width="0.3">4</text>
<text x="522.60" y="948.50" font-size="14.5" text-anchor="start" font-family="Liberation Sans" font-weight="normal" fill="#231815" textLength="2.40" lengthAdjust="spacingAndGlyphs" stroke="#231815" stroke-width="0.3">.</text>
<text x="529.40" y="948.50" font-size="14.5" text-anchor="start" font-family="Liberation Sans" font-weight="normal" fill="#231815" textLength="6.60" lengthAdjust="spacingAndGlyphs" stroke="#231815" stroke-width="0.3">7</text>
<text x="536.90" y="948.50" font-size="14.5" text-anchor="start" font-family="Liberation Sans" font-weight="normal" fill="#231815" textLength="15.50" lengthAdjust="spacingAndGlyphs" stroke="#231815" stroke-width="0.3">～</text>
<text x="553.20" y="948.50" font-size="14.5" text-anchor="start" font-family="Liberation Sans" font-weight="normal" fill="#231815" textLength="4.60" lengthAdjust="spacingAndGlyphs" stroke="#231815" stroke-width="0.3">1</text>
<text x="559.00" y="948.50" font-size="14.5" text-anchor="start" font-family="Liberation Sans" font-weight="normal" fill="#231815" textLength="6.60" lengthAdjust="spacingAndGlyphs" stroke="#231815" stroke-width="0.3">0</text>
<text x="566.00" y="948.50" font-size="14.5" text-anchor="start" font-family="Liberation Sans" font-weight="normal" fill="#231815" textLength="6.20" lengthAdjust="spacingAndGlyphs" stroke="#231815" stroke-width="0.3">K</text>
<text x="536.50" y="965.50" font-size="14.5" text-anchor="middle" font-family="Liberation Sans" font-weight="normal" fill="#231815" textLength="41.70" lengthAdjust="spacingAndGlyphs" stroke="#231815" stroke-width="0.3">电位器</text>
<line x1="705.60" y1="901.30" x2="705.60" y2="1025.50" stroke="#6a6262" stroke-width="1.0"/>
<circle cx="705.60" cy="1028.40" r="3.0" fill="#fff" stroke="#6a6262" stroke-width="0.9"/>
<line x1="732.50" y1="901.30" x2="732.50" y2="1025.50" stroke="#6a6262" stroke-width="1.0"/>
<circle cx="732.50" cy="1028.40" r="3.0" fill="#fff" stroke="#6a6262" stroke-width="0.9"/>
<line x1="759.60" y1="901.30" x2="759.60" y2="1025.50" stroke="#6a6262" stroke-width="1.0"/>
<circle cx="759.60" cy="1028.40" r="3.0" fill="#fff" stroke="#6a6262" stroke-width="0.9"/>
<line x1="786.60" y1="901.30" x2="786.60" y2="1025.50" stroke="#6a6262" stroke-width="1.0"/>
<circle cx="786.60" cy="1028.40" r="3.0" fill="#fff" stroke="#6a6262" stroke-width="0.9"/>
<circle cx="759.60" cy="981.70" r="2.6" fill="#231815"/>
<circle cx="732.50" cy="998.20" r="2.6" fill="#231815"/>
<circle cx="705.60" cy="1014.40" r="2.6" fill="#231815"/>
<text x="34.20" y="1091.50" font-size="19.5" text-anchor="start" font-family="Liberation Serif" font-weight="normal" fill="#231815" textLength="11.00" lengthAdjust="spacingAndGlyphs">7</text>
<text x="44.00" y="1091.50" font-size="19.5" text-anchor="start" font-family="Liberation Serif" font-weight="normal" fill="#231815">、</text>
<text x="66.20" y="1091.50" font-size="19.5" text-anchor="start" font-family="Liberation Serif" font-weight="normal" fill="#231815">三</text>
<text x="88.50" y="1091.50" font-size="19.5" text-anchor="start" font-family="Liberation Serif" font-weight="normal" fill="#231815">相</text>
<text x="110.00" y="1091.50" font-size="19.5" text-anchor="start" font-family="Liberation Serif" font-weight="normal" fill="#231815">半</text>
<text x="131.40" y="1091.50" font-size="19.5" text-anchor="start" font-family="Liberation Serif" font-weight="normal" fill="#231815">控</text>
<text x="153.80" y="1091.50" font-size="19.5" text-anchor="start" font-family="Liberation Serif" font-weight="normal" fill="#231815">整</text>
<text x="176.20" y="1091.50" font-size="19.5" text-anchor="start" font-family="Liberation Serif" font-weight="normal" fill="#231815">流</text>
<text x="196.80" y="1091.50" font-size="19.5" text-anchor="start" font-family="Liberation Serif" font-weight="normal" fill="#231815" textLength="10.50" lengthAdjust="spacingAndGlyphs">K</text>
<text x="209.00" y="1091.50" font-size="19.5" text-anchor="start" font-family="Liberation Serif" font-weight="normal" fill="#231815" textLength="8.50" lengthAdjust="spacingAndGlyphs">Z</text>
<text x="219.20" y="1091.50" font-size="19.5" text-anchor="start" font-family="Liberation Serif" font-weight="normal" fill="#231815" textLength="9.50" lengthAdjust="spacingAndGlyphs">3</text>
</svg></body></html>
